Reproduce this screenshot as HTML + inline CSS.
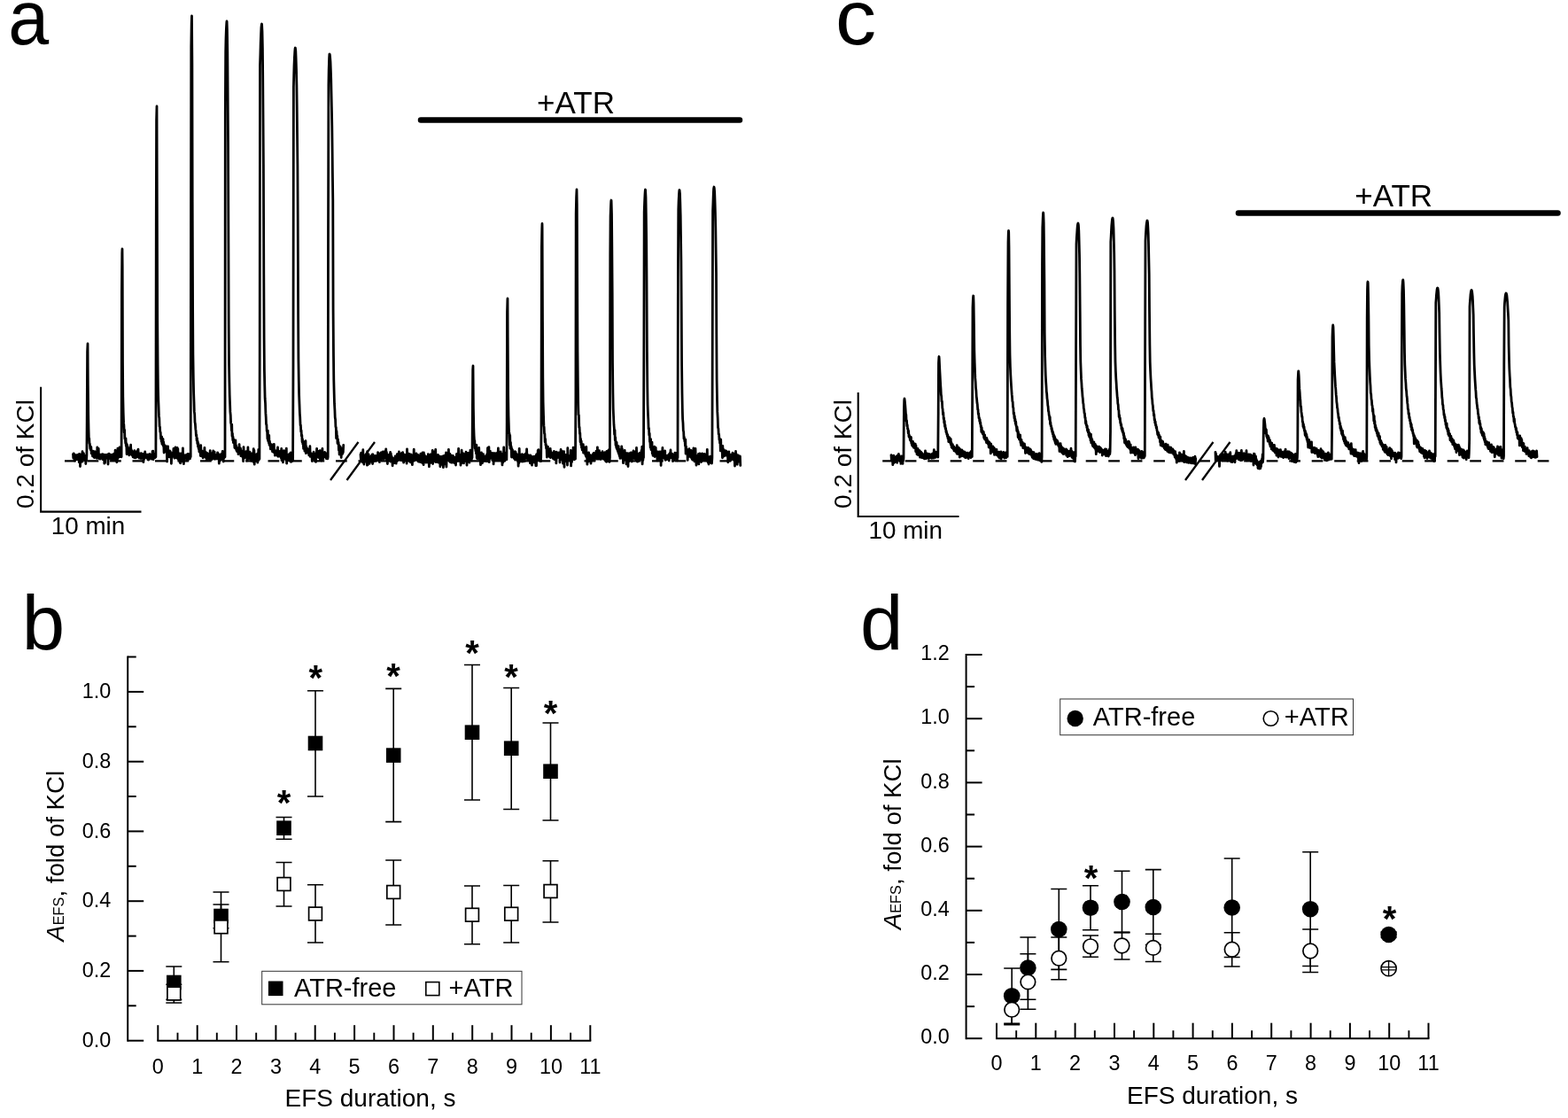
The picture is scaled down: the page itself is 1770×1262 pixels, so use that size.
<!DOCTYPE html>
<html lang="en"><head><meta charset="utf-8"><title>EFS responses with and without ATR</title>
<style>html,body{margin:0;padding:0;background:#fff}svg{display:block}text{font-family:'Liberation Sans', sans-serif;fill:#000}</style></head><body>
<svg width="1770" height="1262" viewBox="0 0 1770 1262" role="img" aria-label="EFS-evoked responses, panels a to d">
<rect width="1770" height="1262" fill="#fff"/>
<text transform="translate(9.2 50.3) scale(0.95 1)" font-size="87">a</text>
<text transform="translate(943 50.3) scale(1.06 1)" font-size="87">c</text>
<text x="24.8" y="732.6" font-size="87" text-anchor="start">b</text>
<text x="971" y="732.6" font-size="87" text-anchor="start">d</text>
<line x1="73" y1="520.4" x2="838" y2="520.4" stroke="#000" stroke-width="2.2" stroke-dasharray="12.75 12.75"/>
<path d="M82.5 512.7 82.8 517.2 83.2 511.8 83.5 516.9 83.9 512.7 84.2 520 84.6 513.8 85 518.6 85.3 514 85.7 518.5 86 514 86.3 517.4 86.7 513.7 87 518.6 87.4 513.5 87.8 518 88.1 514.4 88.5 518.5 88.8 514.3 89.2 521.6 89.5 512.5 89.8 519.8 90.2 514.2 90.5 526.5 90.9 515 91.2 521.8 91.6 513 92 519.8 92.3 513.5 92.7 521.2 93 509.7 93.3 520.6 93.7 513 94 516.4 94.4 511.7 94.8 518.5 95.1 514 95.5 517.7 95.8 514.1 96.2 520.2 96.5 515.7 96.8 523.5 97.2 514.6 97.5 520 97.9 513.9 98.2 472.7 98.6 396.8 99 388.2 99 388 99.3 434.4 99.7 468.8 100 483.8 100.3 494.2 100.7 494.9 101 500.5 101.4 501.1 101.8 506.5 102.1 503.8 102.5 508 102.8 504.4 103.2 511.8 103.5 509.1 103.8 511.6 104.2 509.5 104.5 514.8 104.9 509.1 105.2 513.1 105.6 510.8 106 516.1 106.3 512 106.7 516.7 107 509.7 107.3 514.7 107.7 510.6 108 514.7 108.4 512.4 108.8 516.6 109.1 510.8 109.5 517.4 109.8 504.8 110.2 516.9 110.5 507.8 110.8 516.4 111.2 506.4 111.5 516.4 111.9 513.5 112.2 517.8 112.6 512.8 113 518.2 113.3 514.1 113.7 516.4 114 513.4 114.3 517 114.7 513.9 115 515.3 115.4 512.7 115.8 518.5 116.1 513.5 116.4 516.3 116.8 513 117.2 516.7 117.5 513.3 117.8 523.1 118.2 513.8 118.5 522.5 118.9 513.5 119.2 515.9 119.6 513.3 119.9 517.1 120.3 513.5 120.7 516.3 121 514.3 121.3 516.6 121.7 513.6 122 524 122.4 512.5 122.8 515.9 123.1 512.1 123.4 517.4 123.8 513.3 124.2 516.8 124.5 513.1 124.8 518 125.2 514 125.5 517.5 125.9 514.1 126.2 519.3 126.6 513.1 126.9 519 127.3 513.5 127.7 517.1 128 514.2 128.3 515.9 128.7 512.1 129.1 519.6 129.4 512.9 129.8 518.3 130.1 508.1 130.4 517 130.8 513.9 131.2 518.1 131.5 512.3 131.8 521.8 132.2 509.5 132.6 518.7 132.9 506.1 133.2 516.8 133.6 511.4 133.9 516 134.3 512.5 134.7 515.5 135 505 135.3 515.7 135.7 513.2 136.1 515.6 136.4 509.5 136.8 514.7 137.1 515.8 137.4 330.9 137.8 285.5 138 281 138.2 299.5 138.5 408.8 138.8 447.7 139.2 466 139.6 477.4 139.9 480.4 140.2 488.1 140.6 485.1 140.9 495.1 141.3 494.7 141.7 500.5 142 494.8 142.3 503.5 142.7 500.4 143.1 512.7 143.4 501.9 143.8 508.1 144.1 504 144.4 509.1 144.8 505.3 145.2 511.1 145.5 506.3 145.8 513.9 146.2 507.4 146.6 511.2 146.9 505.9 147.2 510.8 147.6 502.2 147.9 512.9 148.3 507.6 148.6 512.7 149 509 149.3 514.2 149.7 511.1 150.1 515.8 150.4 510.3 150.8 515.1 151.1 509.9 151.4 516.5 151.8 508.7 152.1 514.8 152.5 510.5 152.8 516.8 153.2 511.2 153.6 514.2 153.9 510.5 154.2 516.1 154.6 509.4 154.9 515.1 155.3 508.7 155.6 515.6 156 507.1 156.3 515.7 156.7 513.1 157.1 517.1 157.4 511.6 157.8 514.6 158.1 512.3 158.4 517 158.8 513.6 159.1 517.6 159.5 511.6 159.8 515.3 160.2 513.1 160.6 515.1 160.9 512.6 161.2 515.1 161.6 512.3 161.9 521.7 162.3 512.6 162.6 518.6 163 512.3 163.3 516.4 163.7 509.8 164.1 515.8 164.4 512.7 164.8 514.8 165.1 513.5 165.4 516.8 165.8 514.1 166.1 517.2 166.5 513.1 166.8 518.6 167.2 513.4 167.6 519.2 167.9 513.6 168.2 518.7 168.6 512.6 168.9 516.2 169.3 512.6 169.6 516.9 170 514.6 170.3 517.3 170.7 513.9 171.1 518 171.4 514.3 171.8 517.4 172.1 509.3 172.4 518.1 172.8 509.2 173.1 518.7 173.5 513 173.8 515.7 174.2 512.4 174.6 516.6 174.9 513 175.2 516.5 175.6 512.6 175.9 515.8 176.3 248.6 176.6 135.5 177 120 177 120 177.3 227 177.7 360 178.1 412.1 178.4 437.6 178.8 452.4 179.1 459.9 179.4 469.4 179.8 472.3 180.1 481.3 180.5 482 180.8 487.7 181.2 487.9 181.6 495.3 181.9 493.2 182.2 498.3 182.6 492.8 182.9 501.1 183.3 497.2 183.6 501.9 184 495.4 184.3 503.5 184.7 498.9 185.1 511 185.4 501.9 185.8 506.4 186.1 504.3 186.4 508.5 186.8 505.3 187.1 509.8 187.5 503.7 187.8 509.8 188.2 507.4 188.6 521 188.9 508.4 189.2 514.7 189.6 504 189.9 515.3 190.3 509.3 190.6 515.6 191 510.2 191.3 515.8 191.7 508.9 192.1 514.8 192.4 510 192.8 516.6 193.1 511.3 193.4 523.3 193.8 512.1 194.1 514.5 194.5 512.4 194.8 514.8 195.2 510.9 195.6 515.3 195.9 506.5 196.2 515.7 196.6 513.2 196.9 517.2 197.3 506.8 197.6 516.3 198 504.8 198.3 516.7 198.7 511.1 199.1 515.1 199.4 507.2 199.8 517.2 200.1 505.5 200.4 516.5 200.8 506.6 201.1 518.2 201.5 513.5 201.8 519.4 202.2 511.6 202.6 517.6 202.9 513.4 203.2 522.4 203.6 514.5 203.9 522.8 204.3 512 204.6 520.1 205 513.7 205.3 517.8 205.7 515.6 206.1 520.7 206.4 505.9 206.8 518.5 207.1 513.8 207.4 523.6 207.8 514.9 208.1 518 208.5 513.9 208.8 517.3 209.2 513.6 209.6 517 209.9 514.6 210.2 517 210.6 514.3 210.9 519.9 211.3 513 211.7 517.4 212 512.5 212.3 519 212.7 514.4 213 518.1 213.4 512.7 213.8 517.2 214.1 513.2 214.4 517.8 214.8 513 215.2 515.7 215.5 291.8 215.8 53.3 216.2 26.4 216.5 18 216.5 18.5 216.9 71.3 217.2 227.7 217.6 346.7 217.9 399.4 218.3 426.2 218.6 442.3 219 453.5 219.3 464.4 219.7 467.9 220 476.5 220.4 478.6 220.8 484.4 221.1 486.5 221.4 491.9 221.8 490.9 222.1 497.2 222.5 494.6 222.8 500.8 223.2 498.1 223.5 504.2 223.9 500.5 224.2 506.7 224.6 503.2 224.9 510 225.3 506 225.6 510.1 226 505.9 226.3 514.5 226.7 502.7 227 513.2 227.4 508.8 227.8 514.9 228.1 508.9 228.4 512.9 228.8 510.5 229.1 516.9 229.5 510.8 229.8 514.7 230.2 511.2 230.5 513.4 230.9 505.3 231.2 515.4 231.6 509.6 231.9 516.3 232.3 510.3 232.6 516.9 233 511.3 233.3 519.5 233.7 511.5 234 517.2 234.4 511.9 234.8 517.1 235.1 512.6 235.4 518 235.8 513.3 236.1 517.5 236.5 514.1 236.8 519.5 237.2 508.6 237.5 516.6 237.9 512.6 238.2 518.6 238.6 513.3 238.9 518.9 239.3 513.2 239.6 516.3 240 511.2 240.3 515.7 240.7 509 241 517.5 241.4 511.3 241.8 518.1 242.1 510.1 242.4 518 242.8 513.1 243.1 518 243.5 513.9 243.8 517.2 244.2 513.6 244.5 517.9 244.9 514.6 245.2 517.8 245.6 510.8 245.9 516.7 246.3 513.5 246.6 518.1 247 512.6 247.3 523.2 247.7 514.3 248 520.7 248.4 514.6 248.8 519.4 249.1 515.2 249.4 517.2 249.8 512.4 250.1 517.3 250.5 512.8 250.8 518.4 251.2 509.4 251.5 519.5 251.9 511.5 252.2 521 252.6 512.5 252.9 516.8 253.3 509.7 253.6 516.3 254 515.7 254.3 128.5 254.7 58.9 255 43.9 255.4 32.3 255.8 25.5 256 24 256.1 24.4 256.4 33.6 256.8 58.2 257.1 99.9 257.5 160.2 257.9 274.7 258.2 366.7 258.5 409 258.9 431.6 259.2 445.9 259.6 456.2 259.9 464.9 260.3 469 260.6 477.4 261 478.4 261.4 486 261.7 479.2 262 492.3 262.4 489.1 262.8 497 263.1 493.2 263.4 499.6 263.8 495.8 264.1 500.2 264.5 499.1 264.9 505.4 265.2 500 265.5 505.9 265.9 497 266.2 506.5 266.6 503 266.9 508.5 267.3 506.2 267.6 509.5 268 505.6 268.4 508.5 268.7 507.4 269 512.7 269.4 506.1 269.8 511.3 270.1 501.6 270.4 511.4 270.8 510.2 271.1 511.9 271.5 506 271.9 514.6 272.2 508.6 272.5 513 272.9 509.8 273.2 513.6 273.6 509.6 273.9 516.1 274.3 512 274.6 520.7 275 504.6 275.4 515 275.7 512.1 276 516.9 276.4 511.2 276.8 516.1 277.1 511.7 277.4 515.3 277.8 509.6 278.1 515.3 278.5 513 278.9 520 279.2 511.2 279.5 518 279.9 504.8 280.2 517.8 280.6 514.2 280.9 516.9 281.3 512.5 281.6 515.9 282 510.2 282.4 518 282.7 511.8 283 518.3 283.4 512.5 283.8 520.3 284.1 511.8 284.4 517.4 284.8 512.6 285.1 518.3 285.5 514.2 285.9 516.3 286.2 506.7 286.5 521.9 286.9 508.4 287.2 524.1 287.6 513.6 287.9 519.7 288.3 513.4 288.6 517.8 289 513.6 289.4 520.2 289.7 512.6 290 520.5 290.4 515.5 290.8 522.1 291.1 512 291.4 518.1 291.8 507.3 292.1 519.4 292.5 516.2 292.9 518.1 293.2 405.8 293.5 74 293.9 60.8 294.2 48.7 294.6 38.7 294.9 31.5 295.3 27.6 295.5 27 295.6 27.6 296 35.4 296.4 54.1 296.7 84.8 297 128.5 297.4 185.9 297.8 310 298.1 382.2 298.4 416.9 298.8 436.3 299.1 449.2 299.5 454.8 299.9 466.4 300.2 470.8 300.5 478.9 300.9 479.4 301.2 486.8 301.6 485.8 301.9 495.3 302.3 486.1 302.6 497.8 303 492.5 303.4 499.8 303.7 491.4 304 502.2 304.4 497.8 304.8 503.5 305.1 500.7 305.4 506.9 305.8 501.7 306.1 506.2 306.5 503.3 306.9 506.6 307.2 501.8 307.5 509.8 307.9 504.1 308.2 510 308.6 505.6 308.9 509.5 309.3 501.3 309.6 511 310 507.3 310.4 514.2 310.7 508.7 311 513.7 311.4 509.1 311.8 511.6 312.1 509.3 312.4 512.3 312.8 509.7 313.1 514.3 313.5 504.9 313.9 515.3 314.2 509.5 314.5 513.2 314.9 510.2 315.2 512.5 315.6 509.4 315.9 515.2 316.3 509.1 316.6 514.1 317 509.6 317.4 517.1 317.7 506.5 318 519.6 318.4 513.6 318.8 518 319.1 514.3 319.4 521.9 319.8 513.2 320.1 518.4 320.5 508.6 320.9 515.9 321.2 512.1 321.5 515.4 321.9 514.2 322.2 517.9 322.6 513.8 322.9 519.7 323.3 506.2 323.6 523.1 324 513.6 324.4 517.7 324.7 514.4 325 517.6 325.4 513.4 325.8 516.8 326.1 513.8 326.4 520.2 326.8 512.2 327.1 518.3 327.5 512.4 327.9 517.5 328.2 510.8 328.5 521.4 328.9 511.8 329.2 517.4 329.6 515.6 329.9 520.4 330.3 512.7 330.6 519.7 331 411.9 331.4 98.4 331.7 85.9 332 74.5 332.4 65.1 332.8 58.2 333.1 54.6 333.3 54 333.4 54.2 333.8 57.5 334.1 65.3 334.5 78 334.9 96.2 335.2 120.1 335.5 149.8 335.9 185.7 336.2 246.6 336.6 356.5 336.9 405.3 337.3 430.4 337.6 445.5 338 456.1 338.4 467 338.7 470.7 339.1 480.3 339.4 479.8 339.8 487.4 340.1 485.9 340.4 492.2 340.8 491 341.1 498.9 341.5 495.7 341.8 501.2 342.2 499.3 342.6 506.4 342.9 501.2 343.2 506.3 343.6 498.7 343.9 509.1 344.3 504 344.6 508.7 345 497.7 345.3 511.6 345.7 503.9 346.1 510.8 346.4 505.8 346.8 510.1 347.1 506.5 347.4 511 347.8 509.5 348.1 511.6 348.5 509.9 348.8 513.8 349.2 507.8 349.6 513.6 349.9 503.7 350.2 515.4 350.6 512.9 350.9 515.4 351.3 511.6 351.6 515.6 352 513.7 352.3 520.5 352.7 513.7 353 516.1 353.4 512.3 353.8 515.8 354.1 510.2 354.4 518.4 354.8 513.2 355.1 518.3 355.5 513.2 355.8 517.6 356.2 511.9 356.5 521.4 356.9 512.4 357.2 516.7 357.6 506.3 357.9 513.6 358.3 511.6 358.6 516.1 359 510.5 359.3 515.4 359.7 509.3 360 516.7 360.4 511.9 360.8 516.5 361.1 508.7 361.4 519 361.8 511.8 362.1 514.1 362.5 509.2 362.8 520 363.2 511.6 363.5 515.6 363.9 506.4 364.2 518.4 364.6 511.2 364.9 518 365.3 511.2 365.6 516 366 510.7 366.3 515.6 366.7 510.4 367 515.7 367.4 512.8 367.8 514.3 368.1 512.2 368.4 517.6 368.8 512.2 369.1 517.2 369.5 511.3 369.8 517.9 370.2 515.7 370.5 260 370.9 95.6 371.2 78.4 371.6 66.2 371.9 61.1 372 61 372.3 61.6 372.6 64.4 373 69.7 373.3 77.9 373.7 89.1 374 103.4 374.4 121 374.8 142 375.1 166.4 375.4 194.4 375.8 226 376.1 348.5 376.5 402.1 376.8 428.9 377.2 444.8 377.5 455.7 377.9 462.7 378.2 471 378.6 473.6 378.9 481.8 379.3 482.5 379.6 494.6 380 486.7 380.3 492.8 380.7 492 381 500.4 381.4 495.6 381.8 501.6 382.1 499.2 382.4 508.2 382.8 502.5 383.1 513 383.5 503.6 383.8 508.3 384.2 504.1 384.5 510.6 384.9 506 385.2 516.5 385.6 506.1 385.9 510.7 386.3 508.7 386.6 512.3 387 507 387.3 510.8 387.7 502.5" fill="none" stroke="#000" stroke-width="2.8" stroke-linejoin="round" stroke-linecap="round"/>
<path d="M407 513 407.4 518.7 407.7 511.1 408.1 517.1 408.4 512.2 408.8 518.4 409.1 513.3 409.4 521.9 409.8 507.7 410.1 519.2 410.5 513.7 410.9 524.2 411.2 516.1 411.6 518.9 411.9 514.9 412.2 520.8 412.6 513.9 412.9 521.2 413.3 514.5 413.6 520.9 414 515 414.4 525.2 414.7 509.6 415.1 524.8 415.4 513.2 415.8 519.5 416.1 512.9 416.4 522.5 416.8 515.7 417.1 523.3 417.5 515.9 417.9 519.3 418.2 516 418.6 521 418.9 514.7 419.2 519.1 419.6 515.3 419.9 518.8 420.3 512.9 420.6 523.5 421 512.8 421.4 519 421.7 516.6 422.1 520.4 422.4 516.1 422.8 520.6 423.1 514.6 423.4 518.6 423.8 514.5 424.1 520.3 424.5 515.9 424.9 519.7 425.2 515.8 425.6 520 425.9 514 426.2 517.6 426.6 510.6 426.9 519.6 427.3 513.2 427.6 519.2 428 513.2 428.4 521.7 428.7 514.7 429.1 517.1 429.4 511.7 429.8 519.2 430.1 510.9 430.4 517.8 430.8 510.9 431.1 517.2 431.5 511.8 431.9 518.1 432.2 510 432.6 518.4 432.9 511.1 433.2 516.1 433.6 510.9 433.9 517.3 434.3 509.7 434.6 517.3 435 511.3 435.4 515.8 435.7 506.9 436.1 517 436.4 510.3 436.8 520.3 437.1 513 437.4 523.5 437.8 513.9 438.1 516.6 438.5 513.8 438.9 518.4 439.2 513.4 439.6 516.9 439.9 513 440.2 518.1 440.6 510.5 440.9 521 441.3 512.1 441.6 519.2 442 514.8 442.4 519.8 442.7 516.3 443.1 525.8 443.4 517.3 443.8 521.3 444.1 517.7 444.4 522.4 444.8 518.5 445.1 522.5 445.5 516.9 445.9 520.3 446.2 514.9 446.6 522.6 446.9 517.1 447.2 523.1 447.6 515.5 447.9 520.9 448.3 512.6 448.6 519.5 449 513.5 449.4 519.7 449.7 512.5 450.1 519.1 450.4 510 450.8 517.9 451.1 513.6 451.4 519.3 451.8 515.6 452.1 518.6 452.5 514 452.9 519.7 453.2 511.7 453.6 517.6 453.9 513.5 454.2 519.2 454.6 510.7 454.9 520.3 455.3 512.3 455.6 522.1 456 513.1 456.4 519.3 456.7 513.8 457.1 517.8 457.4 513.9 457.8 518.6 458.1 515.5 458.4 519.6 458.8 513 459.1 523.2 459.5 506.8 459.9 518.6 460.2 515 460.6 518.7 460.9 515 461.2 517.6 461.6 512.1 461.9 517.4 462.3 514.3 462.6 520.7 463 513.5 463.4 521.9 463.7 512.8 464.1 520.2 464.4 515.6 464.8 518 465.1 515.4 465.4 524.6 465.8 513.6 466.1 519.3 466.5 513.3 466.9 518.1 467.2 507.2 467.6 518.2 467.9 513.3 468.2 519.6 468.6 516.1 468.9 518.5 469.3 514.1 469.6 519 470 512 470.4 519.4 470.7 513.2 471.1 516.8 471.4 515.2 471.8 520.4 472.1 513.6 472.4 521.2 472.8 515.4 473.1 520.4 473.5 516.4 473.9 520.2 474.2 514.7 474.6 521.7 474.9 512.1 475.2 519.7 475.6 515 475.9 522 476.3 513.5 476.6 518.9 477 510.8 477.4 523.2 477.7 512.7 478.1 524.7 478.4 511 478.8 520.9 479.1 513.4 479.4 521.7 479.8 514.8 480.1 520.6 480.5 515.8 480.9 522.1 481.2 516 481.6 520 481.9 515.4 482.2 520.6 482.6 515.7 482.9 522 483.3 512.7 483.6 519.3 484 517 484.4 526.8 484.7 517.4 485.1 521.5 485.4 515.6 485.8 521.7 486.1 512.8 486.4 522.3 486.8 513.5 487.1 520.6 487.5 514.7 487.9 518 488.2 508.4 488.6 523.5 488.9 514 489.2 521.6 489.6 515.6 489.9 520.5 490.3 510 490.6 520 491 514.7 491.4 518.3 491.7 507.4 492.1 521.7 492.4 515.8 492.8 521.3 493.1 517.1 493.4 519.8 493.8 515.8 494.1 518.9 494.5 513.4 494.9 522.1 495.2 514.9 495.6 519.1 495.9 515 496.2 521.4 496.6 515.3 496.9 526.7 497.3 515.5 497.6 524 498 515.6 498.4 524.3 498.7 516.8 499.1 519.8 499.4 515.1 499.8 521.1 500.1 515.4 500.4 527.7 500.8 514.7 501.1 522.2 501.5 514.7 501.9 522.1 502.2 517.3 502.6 524 502.9 513.4 503.2 520.6 503.6 510.8 503.9 527 504.3 513.7 504.6 518.2 505 512.7 505.4 518.5 505.7 513.4 506.1 518.4 506.4 507.3 506.8 520.2 507.1 515.4 507.4 518.4 507.8 512.2 508.1 521.5 508.5 516.1 508.9 521.8 509.2 513.9 509.6 522.2 509.9 514.2 510.2 519.2 510.6 515.7 510.9 522 511.3 514.3 511.6 519.6 512 516.9 512.4 518.7 512.7 516 513 522.7 513.4 517.7 513.8 520.5 514.1 516.5 514.5 525 514.8 516.8 515.1 518.7 515.5 512.4 515.9 519.7 516.2 513.7 516.5 520.4 516.9 513.4 517.2 519.7 517.6 506.4 518 517 518.3 514 518.6 520.3 519 516 519.4 520.1 519.7 514.5 520 525.2 520.4 513.1 520.8 523 521.1 508.1 521.5 518.4 521.8 512.1 522.1 517.5 522.5 511.6 522.9 518.3 523.2 512.1 523.5 522.9 523.9 514.7 524.2 520.8 524.6 515.3 525 518.2 525.3 514 525.6 519.4 526 510.2 526.4 521.1 526.7 515.3 527 525.2 527.4 511.4 527.8 519.6 528.1 511.7 528.5 517.8 528.8 511.5 529.1 517.8 529.5 511.5 529.9 522.1 530.2 513.2 530.5 518.3 530.9 508.2 531.2 519.5 531.6 514.3 532 520 532.3 514.3 532.6 517.7 533 516.6 533.4 458.3 533.7 417.3 534 413 534 413.7 534.4 461.2 534.8 483 535.1 491.5 535.5 498.3 535.8 497.4 536.1 506 536.5 501.7 536.9 508.8 537.2 504.8 537.5 512 537.9 502.3 538.2 517.1 538.6 511.5 539 517.9 539.3 507.6 539.6 517.2 540 510 540.4 518 540.7 505.5 541 516.8 541.4 510.9 541.8 517.3 542.1 512.8 542.5 524.6 542.8 514.1 543.1 518.4 543.5 511 543.9 521.2 544.2 513 544.5 522.8 544.9 514.5 545.2 518.8 545.6 512.7 546 520.6 546.3 514.8 546.6 519.6 547 515.4 547.4 520.3 547.7 515.4 548 518.1 548.4 516.3 548.8 520.5 549.1 513.9 549.5 519.9 549.8 512.6 550.1 520.6 550.5 505.6 550.9 517.7 551.2 513.2 551.5 516.4 551.9 504.6 552.2 521.7 552.6 512.4 553 517.7 553.3 509.1 553.6 516.4 554 512.4 554.4 516.1 554.7 513.8 555 516.7 555.4 511.3 555.8 519.5 556.1 513.5 556.5 518.8 556.8 511.6 557.1 523.9 557.5 511.7 557.9 519.3 558.2 515.2 558.5 518.6 558.9 511.6 559.2 519.3 559.6 513 560 519.5 560.3 513.1 560.6 518.2 561 511.3 561.4 518.8 561.7 510.8 562 516.9 562.4 506 562.8 517.4 563.1 514.1 563.5 519 563.8 510.4 564.1 519.4 564.5 511.6 564.9 517.5 565.2 510 565.5 516.4 565.9 511.8 566.2 516.6 566.6 514.4 567 524.9 567.3 515.3 567.6 522.3 568 514.1 568.4 520.4 568.7 505 569 518.6 569.4 514.4 569.8 520.2 570.1 514.3 570.5 518.2 570.8 510.9 571.1 517.8 571.5 513.9 571.9 518.8 572.2 476.2 572.5 352.2 572.9 337.9 573 337 573.2 380.6 573.6 445.9 574 469.5 574.3 479 574.6 489.2 575 489 575.4 502.7 575.7 491.5 576 506.2 576.4 499.3 576.8 507 577.1 503.8 577.5 516 577.8 506.5 578.1 511.2 578.5 507.6 578.9 514.7 579.2 510.1 579.5 515.9 579.9 510.8 580.2 517.4 580.6 512.7 581 517 581.3 509.6 581.6 519.1 582 510.1 582.4 518.9 582.7 512.2 583 518.8 583.4 513.9 583.8 517.2 584.1 514.6 584.5 519.9 584.8 512.8 585.1 526.1 585.5 513.9 585.9 522.7 586.2 506.3 586.5 518.6 586.9 513.9 587.2 520.6 587.6 515.9 588 520.4 588.3 513.7 588.6 520.9 589 512.8 589.4 520.5 589.7 512.9 590 521 590.4 513.8 590.8 520.8 591.1 514.1 591.5 518 591.8 513.4 592.1 520.6 592.5 513.4 592.9 517.6 593.2 512.1 593.5 516.9 593.9 511.7 594.2 516.6 594.6 506.9 595 517.6 595.3 513.5 595.6 518.7 596 514 596.4 520.1 596.7 513.8 597 520 597.4 515.2 597.8 519.6 598.1 516 598.5 522.8 598.8 513.8 599.1 519.9 599.5 515.1 599.9 520.1 600.2 517.7 600.5 525.2 600.9 515.8 601.2 520.8 601.6 516.7 602 521.8 602.3 515.3 602.6 521.1 603 515.5 603.4 522.1 603.7 516.2 604 521.5 604.4 517.1 604.8 525.7 605.1 513.9 605.5 525.6 605.8 512.6 606.1 520.5 606.5 512.4 606.9 519.8 607.2 508.4 607.5 519.9 607.9 507.7 608.2 518.8 608.6 515.3 609 518 609.3 513.8 609.6 520.2 610 514.2 610.4 520.7 610.7 516.1 611 486.9 611.4 278.9 611.8 258 612 252.5 612.1 257 612.5 362.7 612.8 425.5 613.1 453.4 613.5 467.7 613.9 480.4 614.2 482.5 614.5 489.4 614.9 489.5 615.2 498.9 615.6 495.5 616 502.7 616.3 501.4 616.6 506.1 617 503.7 617.4 516.2 617.7 504.6 618 512.4 618.4 504.2 618.8 511.6 619.1 507 619.5 512.9 619.8 508.7 620.1 515.4 620.5 510.3 620.9 516.2 621.2 506.4 621.5 516.6 621.9 509.4 622.2 514.7 622.6 511.4 623 515 623.3 513.1 623.6 515 624 511.3 624.4 517.6 624.7 513.1 625 515.8 625.4 509.5 625.8 518.6 626.1 510.3 626.5 518.4 626.8 511.3 627.1 516.4 627.5 511.2 627.9 522.9 628.2 510.1 628.5 517.5 628.9 512.5 629.2 515.6 629.6 511.4 630 516.4 630.3 511.1 630.6 515.2 631 511.9 631.4 516.8 631.7 510.7 632 522 632.4 511.9 632.8 516.1 633.1 507.3 633.5 517.2 633.8 512.6 634.1 518.9 634.5 509.3 634.9 517.8 635.2 509.8 635.5 523.1 635.9 514.2 636.2 520.5 636.6 509.6 637 527.3 637.3 514.5 637.6 521.3 638 516.1 638.4 520.6 638.7 513.3 639 519 639.4 513.2 639.8 520.8 640.1 513.7 640.5 525 640.8 505.7 641.1 519.9 641.5 515.5 641.9 519.7 642.2 516.4 642.5 518 642.9 515.2 643.2 518.4 643.6 514.2 644 517.8 644.3 508.4 644.6 525.9 645 513.5 645.4 521.7 645.7 514.6 646 518.4 646.4 511.1 646.8 516.8 647.1 505.1 647.5 516.4 647.8 508.1 648.1 518.8 648.5 513.4 648.9 518 649.2 511.4 649.5 518.1 649.9 448.5 650.2 241.3 650.6 222.9 651 214.1 651 214 651.3 231 651.6 307.2 652 397.5 652.4 437.3 652.7 456.8 653 468.1 653.4 468.8 653.8 482.8 654.1 482 654.5 489.6 654.8 488.8 655.1 498.9 655.5 495.1 655.9 502.1 656.2 497.9 656.5 505.3 656.9 502.4 657.2 508 657.6 504.5 658 507.8 658.3 501.6 658.6 511.2 659 504.4 659.4 510.8 659.7 507.8 660 511 660.4 509.2 660.8 513.3 661.1 510.5 661.5 515.2 661.8 504.4 662.1 516.2 662.5 512.2 662.9 524.2 663.2 511 663.5 517.4 663.9 512.7 664.2 521 664.6 511 665 518.6 665.3 514.6 665.6 518.9 666 514.4 666.3 516.4 666.7 513.7 667 523.2 667.4 514.7 667.8 518 668.1 514.9 668.5 517.5 668.8 514.8 669.1 518.5 669.5 512.4 669.8 518.1 670.2 511.3 670.5 517.9 670.9 513 671.2 519.6 671.6 513.3 672 517 672.3 511.5 672.6 516.3 673 509.2 673.3 516.2 673.7 510.9 674 518.1 674.4 504.8 674.8 517.6 675.1 512.7 675.5 518.1 675.8 510.3 676.1 516 676.5 508.7 676.8 518.1 677.2 512.6 677.5 516.6 677.9 512.7 678.2 518.5 678.6 511.5 679 517.2 679.3 513.1 679.6 517 680 509.6 680.3 517.1 680.7 514.4 681 518.2 681.4 513.7 681.8 517 682.1 514.7 682.5 518.7 682.8 510.7 683.1 519.6 683.5 512 683.8 520.8 684.2 514.2 684.5 521.3 684.9 509.5 685.2 517.1 685.6 512.9 686 520.8 686.3 513.8 686.6 518.5 687 507.9 687.3 519.7 687.7 513.9 688 521.4 688.4 516.6 688.8 287.8 689.1 243.9 689.5 233.2 689.8 227 690 226 690.1 227.1 690.5 241.4 690.8 275.4 691.2 331.4 691.5 409.7 691.9 443.9 692.2 461.1 692.6 470.7 693 479.7 693.3 483.1 693.6 490.4 694 485.4 694.3 497 694.7 493.7 695 502.5 695.4 498.4 695.8 505.5 696.1 499.3 696.5 506.9 696.8 505.1 697.1 508.7 697.5 504.9 697.8 510.5 698.2 503.7 698.5 512.4 698.9 506.9 699.2 514.8 699.6 510.8 700 517.4 700.3 510.8 700.6 515.9 701 512.5 701.3 514.1 701.7 504 702 515.5 702.4 506.7 702.8 518 703.1 509.3 703.5 522.7 703.8 511.6 704.1 516.7 704.5 513 704.8 518.5 705.2 508.3 705.5 519.3 705.9 515.4 706.2 518.9 706.6 511.4 707 523.9 707.3 514.5 707.6 518.5 708 514.1 708.3 517.3 708.7 511.7 709 526.5 709.4 514 709.8 521 710.1 513.6 710.5 518.7 710.8 511.6 711.1 517.2 711.5 513.6 711.8 519.5 712.2 511 712.5 519.2 712.9 511.6 713.2 521 713.6 511.2 714 515.3 714.3 511.5 714.6 517.3 715 509 715.3 516 715.7 509.6 716 517.6 716.4 510.4 716.8 517.6 717.1 509.6 717.5 518.2 717.8 515.5 718.1 519.1 718.5 505.5 718.8 518.5 719.2 513.8 719.5 521.2 719.9 515.9 720.2 520.8 720.6 513.4 721 519.7 721.3 511.9 721.6 516.7 722 512.8 722.3 519.3 722.7 511.1 723 516.7 723.4 513.3 723.8 517.1 724.1 508.5 724.5 516.7 724.8 504.2 725.1 523.9 725.5 514.4 725.8 519.7 726.2 514.1 726.5 516.5 726.9 380.4 727.2 239.2 727.6 228.2 728 219.6 728.3 214.8 728.5 214 728.6 214.6 729 222.5 729.3 241.3 729.7 272.3 730 316.3 730.4 397.5 730.8 437.3 731.1 456.8 731.5 468.1 731.8 473.8 732.1 484.1 732.5 483.3 732.8 491.3 733.2 489.1 733.5 498.8 733.9 498.7 734.2 505.1 734.6 495.6 735 507.7 735.3 504.4 735.6 507.6 736 499.1 736.3 511.9 736.7 507.1 737 514.3 737.4 509.9 737.8 513.8 738.1 507.8 738.5 513.4 738.8 504.2 739.1 515.5 739.5 509.4 739.8 514.9 740.2 505.4 740.5 512.5 740.9 510.5 741.2 513.2 741.6 511.8 742 519.9 742.3 510 742.6 515.7 743 513.7 743.3 518 743.7 512.9 744 516.4 744.4 510 744.8 518.3 745.1 514.2 745.5 519.1 745.8 510.1 746.1 525.4 746.5 509.7 746.8 520.4 747.2 510.5 747.5 517.1 747.9 505.5 748.2 517 748.6 512 749 515.4 749.3 511.3 749.6 517.2 750 512.4 750.3 516 750.7 508.9 751 519.3 751.4 514.6 751.8 519 752.1 515 752.5 517.6 752.8 514.4 753.1 518.2 753.5 515.8 753.8 518.4 754.2 514.7 754.5 516.5 754.9 513 755.2 520 755.6 515.1 756 517.1 756.3 511.3 756.6 516.8 757 508 757.3 516.4 757.7 512.7 758 516.6 758.4 512.2 758.8 517.3 759.1 513.2 759.5 520.6 759.8 513.2 760.1 519.7 760.5 513.9 760.8 519.5 761.2 515.9 761.5 517.5 761.9 511.2 762.2 517 762.6 513.6 763 518 763.3 511.3 763.6 518.4 764 511.4 764.3 519.8 764.7 515.2 765 516.5 765.4 312.7 765.8 236.9 766.1 227 766.5 219.4 766.8 215.2 767 214.5 767.1 214.8 767.5 218.7 767.8 228 768.2 243.4 768.5 265.2 768.9 293.9 769.2 340.5 769.6 412.4 770 444.3 770.3 460.7 770.6 472.6 771 477.5 771.3 485.9 771.7 487.5 772 495.1 772.4 493.4 772.8 498.1 773.1 497.7 773.5 503.5 773.8 496.1 774.1 512.2 774.5 504.1 774.8 509.9 775.2 506.7 775.5 510.7 775.9 507.7 776.2 519.4 776.6 509.4 777 514.4 777.3 507.9 777.6 515.4 778 506.7 778.3 515.3 778.7 509.5 779 515.3 779.4 509.9 779.8 513.7 780.1 508.5 780.5 517 780.8 512.3 781.1 518.2 781.5 512.5 781.8 519.1 782.2 510.9 782.5 516.5 782.9 506 783.2 516.1 783.6 513.4 784 520.8 784.3 508.5 784.6 515.7 785 506.3 785.3 517 785.7 513.8 786 525.1 786.4 514.5 786.8 521.7 787.1 515.8 787.5 518.9 787.8 514.8 788.1 519.3 788.5 512.3 788.8 523.9 789.2 515.4 789.5 518.6 789.9 511.8 790.2 518.3 790.6 512.4 791 520.6 791.3 514.3 791.6 521.5 792 513.8 792.3 516.7 792.7 512 793 518.3 793.4 512.3 793.8 518.5 794.1 514.6 794.5 518.6 794.8 512.6 795.1 518.3 795.5 512.5 795.8 518.6 796.2 513.5 796.5 519.6 796.9 514.9 797.2 519.8 797.6 513.6 798 517.5 798.3 507.4 798.6 519.1 799 515.7 799.3 522.2 799.7 516 800 524 800.4 516 800.8 520 801.1 516.6 801.5 521.1 801.8 515.2 802.1 519.2 802.5 515.8 802.8 522.8 803.2 517.1 803.5 523 803.9 516.7 804.2 413.5 804.6 238.4 805 227.7 805.3 218.8 805.6 213 806 211 806 211 806.3 212.3 806.7 217.2 807 226.1 807.4 239.4 807.8 257.4 808.1 280.3 808.5 308.3 808.8 377.4 809.1 428 809.5 451.8 809.8 464.9 810.2 472.2 810.5 482.5 810.9 483.9 811.2 490.2 811.6 490.2 812 496.6 812.3 494.8 812.6 500.1 813 497.7 813.3 508.9 813.7 496.2 814 507.3 814.4 503.6 814.8 508.5 815.1 506.9 815.5 516.8 815.8 503.4 816.1 513.8 816.5 507 816.8 515.2 817.2 509.5 817.5 514.7 817.9 510.2 818.2 513.8 818.6 508.7 819 514.2 819.3 510 819.6 514 820 509.1 820.3 513.9 820.7 510.2 821 513.9 821.4 512.6 821.8 521.8 822.1 510.6 822.5 517.3 822.8 509.9 823.1 519.8 823.5 513 823.8 516.6 824.2 513.3 824.5 519.9 824.9 515.3 825.2 519.1 825.6 513.1 826 517.7 826.3 514.4 826.6 518.4 827 511.1 827.3 518.5 827.7 511.9 828 519.1 828.4 514.8 828.8 519.3 829.1 515.9 829.5 526 829.8 513.9 830.1 522.3 830.5 509.5 830.8 518.8 831.2 512.6 831.5 517.5 831.9 516 832.2 524.3 832.6 514.8 833 519.5 833.3 514 833.6 521 834 515 834.3 521.2 834.7 515.7 835 520.1 835.4 515 835.8 525.4" fill="none" stroke="#000" stroke-width="2.8" stroke-linejoin="round" stroke-linecap="round"/>
<line x1="373" y1="542" x2="404.5" y2="499" stroke="#000" stroke-width="2.3"/>
<line x1="391.5" y1="542" x2="423" y2="499" stroke="#000" stroke-width="2.3"/>
<path d="M46.1 436.8 V577.6 H159.5" fill="none" stroke="#000" stroke-width="2.1"/>
<line x1="475" y1="135.5" x2="835" y2="135.5" stroke="#000" stroke-width="6.5" stroke-linecap="round"/>
<text x="650" y="127.5" font-size="35" text-anchor="middle">+ATR</text>
<text x="99.5" y="603" font-size="27.8" text-anchor="middle">10 min</text>
<text transform="translate(38.2 512.5) rotate(-90)" font-size="28" text-anchor="middle">0.2 of KCl</text>
<line x1="996.2" y1="520.4" x2="1749" y2="520.4" stroke="#000" stroke-width="2.2" stroke-dasharray="12.75 12.75"/>
<path d="M1006 513.7 1006.4 519.4 1006.7 516.1 1007 519.6 1007.4 514.9 1007.8 524.6 1008.1 516.2 1008.5 519.9 1008.8 514.2 1009.1 522.5 1009.5 517.1 1009.9 521.8 1010.2 516.5 1010.5 520.8 1010.9 518.4 1011.2 520.3 1011.6 515.3 1012 519.9 1012.3 515 1012.6 522.3 1013 517.4 1013.4 519.9 1013.7 513.9 1014 519.2 1014.4 512.5 1014.8 518.2 1015.1 514.1 1015.5 520.1 1015.8 516.9 1016.1 520.9 1016.5 517.6 1016.9 523.3 1017.2 516.5 1017.5 523 1017.9 514.9 1018.2 521.3 1018.6 517.1 1019 523.4 1019.3 516.8 1019.6 520 1020 517 1020.4 464.2 1020.7 452 1021 450 1021 450 1021.4 453 1021.8 457.7 1022.1 461.5 1022.5 467.6 1022.8 467.9 1023.1 475.4 1023.5 474.6 1023.9 480.9 1024.2 479.5 1024.5 484.2 1024.9 484 1025.2 488.8 1025.6 486.1 1026 492.9 1026.3 491 1026.7 494 1027 492.3 1027.3 496.7 1027.7 493.7 1028 497.6 1028.4 493.4 1028.8 500.4 1029.1 498 1029.5 502.6 1029.8 498.6 1030.2 503.7 1030.5 498.3 1030.8 503.5 1031.2 499.8 1031.5 505.4 1031.9 500.9 1032.2 504.7 1032.6 503.2 1033 505.8 1033.3 501.2 1033.7 509.8 1034 503.2 1034.3 508.7 1034.7 506 1035 512.8 1035.4 506.1 1035.8 510.9 1036.1 506.4 1036.5 513.6 1036.8 508.1 1037.2 512.5 1037.5 508.8 1037.8 513.3 1038.2 508.6 1038.5 516.1 1038.9 509.8 1039.2 515 1039.6 510.2 1040 515.1 1040.3 512.9 1040.7 516.5 1041 511.6 1041.3 515.1 1041.7 512.5 1042 516.8 1042.4 512.9 1042.8 516.4 1043.1 513.7 1043.5 517.8 1043.8 512.9 1044.2 516.5 1044.5 508.9 1044.8 515.1 1045.2 511.3 1045.5 517.6 1045.9 512.1 1046.2 517 1046.6 511.9 1047 515 1047.3 513.7 1047.7 516.1 1048 513.4 1048.3 517.6 1048.7 512.4 1049 517.1 1049.4 513.8 1049.8 516.5 1050.1 513.1 1050.5 516.1 1050.8 513 1051.2 516.8 1051.5 512.7 1051.8 517.3 1052.2 512.5 1052.5 516.3 1052.9 511.9 1053.2 515.2 1053.6 512.6 1054 517.1 1054.3 507.7 1054.7 514.5 1055 512.4 1055.3 515.7 1055.7 511.4 1056 516.4 1056.4 510.2 1056.8 515.5 1057.1 510.7 1057.5 514.6 1057.8 510.9 1058.2 515 1058.5 514.1 1058.8 516.1 1059.2 465.5 1059.5 409.6 1059.9 402.9 1060 402.5 1060.2 404.6 1060.6 413.4 1061 421 1061.3 426.9 1061.7 434.6 1062 438.6 1062.3 445.2 1062.7 447.4 1063 453.1 1063.4 453 1063.8 460.7 1064.1 461.5 1064.5 467.8 1064.8 465.6 1065.2 473 1065.5 471.5 1065.8 477.5 1066.2 475.1 1066.5 481.5 1066.9 479.6 1067.2 484.1 1067.6 483.3 1068 487.9 1068.3 486.3 1068.7 490.2 1069 489.1 1069.3 492.5 1069.7 490.5 1070 494.9 1070.4 492.7 1070.8 498.6 1071.1 493.8 1071.5 498 1071.8 493.8 1072.2 498.4 1072.5 496.2 1072.8 500.3 1073.2 495.4 1073.5 502.3 1073.9 499.4 1074.2 505 1074.6 501.1 1075 505.8 1075.3 501.7 1075.7 504.9 1076 503.3 1076.3 507.1 1076.7 504 1077 508.9 1077.4 505.2 1077.8 508.2 1078.1 507 1078.5 509.4 1078.8 507.6 1079.2 510.1 1079.5 506.1 1079.8 511.5 1080.2 502.6 1080.5 512.4 1080.9 506.1 1081.2 512 1081.6 504.9 1082 511.4 1082.3 505.4 1082.7 512.8 1083 506.2 1083.3 516.2 1083.7 507.2 1084 514 1084.4 509.3 1084.8 512.7 1085.1 510 1085.5 514.9 1085.8 508 1086.2 512.4 1086.5 508.6 1086.8 513.7 1087.2 512.3 1087.5 514.6 1087.9 512.1 1088.2 515.3 1088.6 509.9 1089 514.5 1089.3 510.5 1089.7 516.6 1090 511.1 1090.3 516.6 1090.7 511.9 1091 515.4 1091.4 512.3 1091.8 516.2 1092.1 511.1 1092.5 516.2 1092.8 511.9 1093.2 517.7 1093.5 513.9 1093.8 515.9 1094.2 513.4 1094.5 515.5 1094.9 510.9 1095.2 515.7 1095.6 512.4 1096 516.5 1096.3 509.3 1096.7 515.6 1097 512 1097.3 515.5 1097.7 434.6 1098 347 1098.4 337.1 1098.7 334 1098.8 334.1 1099.1 342.9 1099.5 369.9 1099.8 395.2 1100.2 409.2 1100.5 417.9 1100.8 426.4 1101.2 431.1 1101.5 437.6 1101.9 441 1102.2 447.1 1102.6 450 1103 454.9 1103.3 456.2 1103.7 462.4 1104 462 1104.3 467.7 1104.7 466.8 1105 471.9 1105.4 471.4 1105.8 475.5 1106.1 473.4 1106.5 478.5 1106.8 476.9 1107.2 482 1107.5 480.7 1107.8 487.4 1108.2 482.6 1108.5 488.1 1108.9 485.8 1109.2 489.6 1109.6 487.2 1110 490.6 1110.3 487.5 1110.7 494.2 1111 490.8 1111.3 495.5 1111.7 491 1112 495.9 1112.4 493.8 1112.8 497.3 1113.1 494.7 1113.5 499.7 1113.8 494.4 1114.2 500 1114.5 496.3 1114.8 499.5 1115.2 497.6 1115.5 501.5 1115.9 499.6 1116.2 504.9 1116.6 499 1117 504.5 1117.3 499.8 1117.7 505.8 1118 503.5 1118.3 511.9 1118.7 501.2 1119 509 1119.4 504.5 1119.8 507.4 1120.1 506 1120.5 510.1 1120.8 503.8 1121.2 509.5 1121.5 505.3 1121.8 509.3 1122.2 505.4 1122.5 513.4 1122.9 506.8 1123.2 511.2 1123.6 507.8 1124 511.7 1124.3 507.6 1124.7 513.3 1125 507.5 1125.3 513.6 1125.7 510.8 1126 513.5 1126.4 510.6 1126.8 515.3 1127.1 511.4 1127.5 515.4 1127.8 510.2 1128.2 517.1 1128.5 511.1 1128.8 516.5 1129.2 510.8 1129.5 516.6 1129.9 510 1130.2 518 1130.6 512.9 1131 515 1131.3 511.9 1131.7 515.7 1132 512.7 1132.3 513.5 1132.7 510.4 1133 513.6 1133.4 511.2 1133.8 517.2 1134.1 511.2 1134.5 515.4 1134.8 511.5 1135.2 516.5 1135.5 510.8 1135.8 516.7 1136.2 511.4 1136.5 514.4 1136.9 513.1 1137.2 515.4 1137.6 343.9 1138 274.1 1138.3 262.5 1138.5 260.5 1138.7 261.8 1139 279 1139.3 319.8 1139.7 374 1140 400.1 1140.4 414 1140.8 423 1141.1 428.5 1141.5 435.4 1141.8 439.6 1142.2 445.4 1142.5 448 1142.8 452.9 1143.2 453.7 1143.5 459.6 1143.9 460.4 1144.2 467.3 1144.6 465.9 1145 472.1 1145.3 469.5 1145.7 475.5 1146 473.1 1146.3 478.5 1146.7 475.9 1147 480.7 1147.4 480.9 1147.8 486.3 1148.1 482 1148.5 487.5 1148.8 485.4 1149.2 493.6 1149.5 487.7 1149.8 494 1150.2 490.9 1150.5 496 1150.9 491 1151.2 496.2 1151.6 490.8 1152 499.8 1152.3 496.1 1152.7 502.6 1153 496.3 1153.3 501.4 1153.7 498.9 1154 503.1 1154.4 499.5 1154.8 505.7 1155.1 501.1 1155.5 505.5 1155.8 501.6 1156.2 504.4 1156.5 501 1156.8 506.8 1157.2 503.7 1157.5 511.5 1157.9 505.3 1158.2 510.5 1158.6 505.3 1159 510.1 1159.3 505.7 1159.7 510.7 1160 505.5 1160.3 511.3 1160.7 505.3 1161 510.6 1161.4 506.9 1161.8 512.5 1162.1 507 1162.5 511.6 1162.8 507 1163.2 512.6 1163.5 507.7 1163.8 510.8 1164.2 509 1164.5 514.4 1164.9 510.2 1165.2 516.3 1165.6 510.5 1166 514.6 1166.3 511.2 1166.7 517.7 1167 510.6 1167.3 514.8 1167.7 513.6 1168 518 1168.4 513.7 1168.8 516.6 1169.1 512.6 1169.5 518.5 1169.8 512.3 1170.2 517.7 1170.5 512.8 1170.8 518.1 1171.2 514 1171.5 519.2 1171.9 516.6 1172.2 519.2 1172.6 511.8 1173 517.7 1173.3 511.7 1173.7 519.8 1174 514.9 1174.3 518.7 1174.7 516 1175 519.9 1175.4 514.8 1175.8 521.4 1176.1 515.2 1176.5 298.9 1176.8 257.1 1177.2 246.9 1177.5 240.9 1177.7 240 1177.8 240.8 1178.2 251.3 1178.5 276.3 1178.9 317.5 1179.2 375.3 1179.6 401.2 1180 414.9 1180.3 423.9 1180.7 431.4 1181 435.8 1181.3 441.6 1181.7 444.6 1182 449.6 1182.4 452.1 1182.8 457.6 1183.1 458.8 1183.5 464.5 1183.8 464.5 1184.2 468.8 1184.5 469.2 1184.8 473.7 1185.2 470.6 1185.5 478.8 1185.9 476.7 1186.2 480.8 1186.6 480.7 1187 484.5 1187.3 483.1 1187.7 487.6 1188 486.1 1188.3 489.9 1188.7 487.9 1189 492.8 1189.4 490.4 1189.8 495.9 1190.1 492.1 1190.5 497.6 1190.8 493.6 1191.2 499.8 1191.5 497.1 1191.8 501.3 1192.2 496.2 1192.5 500.6 1192.9 498.5 1193.2 501 1193.6 497.4 1194 501.6 1194.3 499.1 1194.7 503.2 1195 501.3 1195.3 504.4 1195.7 502.9 1196 509.5 1196.4 504.7 1196.8 508.1 1197.1 500.6 1197.5 508.5 1197.8 503.3 1198.2 510.1 1198.5 505.5 1198.8 511.2 1199.2 505.2 1199.5 509.3 1199.9 506.6 1200.2 512.5 1200.6 506.3 1201 512.4 1201.3 509.3 1201.7 510.5 1202 508.2 1202.3 511.8 1202.7 509 1203 511 1203.4 506.8 1203.8 514.2 1204.1 507.6 1204.5 513 1204.8 508.7 1205.2 515.7 1205.5 511.4 1205.8 514.2 1206.2 509.5 1206.5 513.2 1206.9 510 1207.2 514.6 1207.6 510.3 1208 513.6 1208.3 508.7 1208.7 514.2 1209 506.2 1209.3 513.3 1209.7 509 1210 516.2 1210.4 510 1210.8 517 1211.1 512.3 1211.5 517.3 1211.8 512.8 1212.2 516.6 1212.5 510.6 1212.8 520.7 1213.2 511.6 1213.5 521 1213.9 513 1214.2 514.9 1214.6 397.7 1215 275.7 1215.3 269.2 1215.7 263.4 1216 258.5 1216.3 254.8 1216.7 252.6 1217 252 1217 252 1217.4 254.1 1217.8 260.3 1218.1 271.2 1218.5 287.2 1218.8 308.7 1219.2 352.3 1219.5 390.1 1219.8 408.5 1220.2 419.3 1220.5 427.4 1220.9 432.4 1221.2 438.2 1221.6 441.8 1222 447.6 1222.3 449.7 1222.7 455.1 1223 455.9 1223.3 460.8 1223.7 462.1 1224 466.2 1224.4 466.4 1224.8 471.6 1225.1 471.3 1225.5 478 1225.8 475.1 1226.2 479.8 1226.5 479.4 1226.8 482.5 1227.2 480.7 1227.5 486.2 1227.9 484.1 1228.2 487.9 1228.6 485 1229 491.3 1229.3 487.9 1229.7 493.1 1230 489.3 1230.3 493.8 1230.7 492.8 1231 497.2 1231.4 490.1 1231.8 499.9 1232.1 494.5 1232.5 499.4 1232.8 495.9 1233.2 502.7 1233.5 499.6 1233.8 503.8 1234.2 499.3 1234.5 503.9 1234.9 498.8 1235.2 505.3 1235.6 502.6 1236 505.9 1236.3 501.3 1236.7 507.6 1237 502.6 1237.3 512.7 1237.7 505 1238 507.3 1238.4 503.9 1238.8 508.6 1239.1 505.2 1239.5 509.4 1239.8 504.3 1240.2 508.9 1240.5 504.2 1240.8 509.7 1241.2 506.2 1241.5 510.5 1241.9 505.2 1242.2 510.1 1242.6 505.9 1243 509.9 1243.3 507 1243.7 509.7 1244 507.6 1244.3 514 1244.7 508.8 1245 511.6 1245.4 509.6 1245.8 510.9 1246.1 508.1 1246.5 512.3 1246.8 508.3 1247.2 512.2 1247.5 506.9 1247.8 513.6 1248.2 508.5 1248.5 514.6 1248.9 507.2 1249.2 514.4 1249.6 508.9 1250 513.6 1250.3 509.9 1250.7 513.8 1251 509.1 1251.3 515 1251.7 509 1252 513.3 1252.4 506.9 1252.8 512.7 1253.1 509.8 1253.5 486.5 1253.8 273.1 1254.2 266.4 1254.5 260.1 1254.8 254.6 1255.2 250.3 1255.5 247.4 1255.9 246.1 1256 246 1256.2 246.6 1256.6 250.3 1257 257.7 1257.3 269.4 1257.7 285.6 1258 306.4 1258.3 350.3 1258.7 389.4 1259 408.2 1259.4 419.2 1259.8 427.6 1260.1 431.9 1260.5 438.8 1260.8 442.5 1261.2 448.5 1261.5 450 1261.8 455.3 1262.2 456.9 1262.5 462.5 1262.9 463 1263.2 470.6 1263.6 468.5 1264 473.3 1264.3 471.6 1264.7 477.7 1265 476.5 1265.3 480.4 1265.7 478.9 1266 484.2 1266.4 482.3 1266.8 486.6 1267.1 483.7 1267.5 488.4 1267.8 486.9 1268.2 491.4 1268.5 488.8 1268.8 495.1 1269.2 492.1 1269.5 499.7 1269.9 494.6 1270.2 500.1 1270.6 495.9 1271 501.3 1271.3 498.8 1271.7 502.6 1272 500.3 1272.3 503.5 1272.7 498.7 1273 504.5 1273.4 500.4 1273.8 503.1 1274.1 498.1 1274.5 505.8 1274.8 499.4 1275.2 505.6 1275.5 503 1275.8 507.5 1276.2 501.9 1276.5 511.2 1276.9 505.1 1277.2 509.7 1277.6 505.5 1278 509.8 1278.3 505.9 1278.7 510.8 1279 505.9 1279.3 510.7 1279.7 505 1280 511.3 1280.4 506 1280.8 511.4 1281.1 507.2 1281.5 513.6 1281.8 504.9 1282.2 509.6 1282.5 506.7 1282.8 510.3 1283.2 508.3 1283.5 511.2 1283.9 507.7 1284.2 512.3 1284.6 507.2 1285 517.8 1285.3 509.1 1285.7 515.6 1286 508.6 1286.3 516 1286.7 511.3 1287 514.4 1287.4 510.5 1287.8 514.8 1288.1 511 1288.5 517.3 1288.8 509.4 1289.2 517.2 1289.5 511.2 1289.8 515.8 1290.2 511.6 1290.5 516.3 1290.9 513.9 1291.2 516.8 1291.6 509.8 1292 515.4 1292.3 514.6 1292.7 366.2 1293 272 1293.3 265.5 1293.7 259.7 1294 254.9 1294.4 251.4 1294.8 249.4 1295 249 1295.1 249.1 1295.5 250.8 1295.8 255.5 1296.2 263.5 1296.5 275 1296.8 290.2 1297.2 309.3 1297.5 351.3 1297.9 389.8 1298.2 408.4 1298.6 419.3 1299 427.5 1299.3 432.2 1299.7 439 1300 442.2 1300.3 448.7 1300.7 451.2 1301 456.1 1301.4 458.1 1301.8 463.9 1302.1 463.3 1302.5 469.1 1302.8 467.7 1303.2 474.1 1303.5 473.1 1303.8 477.5 1304.2 475.8 1304.5 480.2 1304.9 479.4 1305.2 483 1305.6 481.8 1306 485.9 1306.3 486.2 1306.7 490.4 1307 487.7 1307.3 491.3 1307.7 488.3 1308 493.8 1308.4 490.7 1308.8 494.8 1309.1 492.6 1309.5 498.9 1309.8 492.9 1310.2 502.6 1310.5 497.5 1310.8 500.4 1311.2 497.3 1311.5 502.8 1311.9 497.9 1312.2 503.8 1312.6 498.3 1313 503.4 1313.3 500.7 1313.7 503.7 1314 501.9 1314.3 505.8 1314.7 503.1 1315 507 1315.4 503.9 1315.8 507.6 1316.1 501.2 1316.5 505.9 1316.8 502.4 1317.2 508.3 1317.5 503.2 1317.8 509.4 1318.2 502.2 1318.5 507.1 1318.9 504.8 1319.2 510.4 1319.6 506 1320 508.9 1320.3 504.9 1320.7 510.8 1321 505.4 1321.3 510.8 1321.7 505.1 1322 509 1322.4 506.5 1322.8 511 1323.1 507.8 1323.5 511.3 1323.8 507 1324.2 511.6 1324.5 507.9 1324.8 513 1325.2 509.1 1325.5 512.8 1325.9 510.2 1326.2 515.9 1326.6 509.7 1327 516.8 1327.3 512.9 1327.7 518.5 1328 514.1 1328.3 522.2 1328.7 516.6 1329 519 1329.4 514.5 1329.8 520.2 1330.1 515.5 1330.5 519.7 1330.8 515.3 1331.2 520.4 1331.5 510.8 1331.8 517.9 1332.2 515.4 1332.5 517.5 1332.9 512.8 1333.2 518.2 1333.6 513 1334 519.8 1334.3 514.2 1334.7 517.4 1335 514.3 1335.3 519.6 1335.7 512.9 1336 520.6 1336.4 509.3 1336.8 521.7 1337.1 514.6 1337.5 519.6 1337.8 514.3 1338.2 519.9 1338.5 515 1338.8 520.6 1339.2 516.8 1339.5 521.8 1339.9 516.1 1340.2 519.1 1340.6 516.1 1341 519.8 1341.3 517.7 1341.7 522.3 1342 517 1342.3 521.5 1342.7 518 1343 519.3 1343.4 516.9 1343.8 522.2 1344.1 518.4 1344.5 522.6 1344.8 517.2 1345.2 522.8 1345.5 517.1 1345.8 522.1 1346.2 517.4 1346.5 520.2 1346.9 516.5 1347.2 523 1347.6 517.9 1348 522.5 1348.3 517.2 1348.7 519.5 1349 515.1 1349.3 523.8 1349.7 517.7" fill="none" stroke="#000" stroke-width="2.8" stroke-linejoin="round" stroke-linecap="round"/>
<path d="M1372 510.4 1372.3 520.4 1372.7 512.3 1373 519.4 1373.4 516.1 1373.8 519.9 1374.1 515.4 1374.5 519 1374.8 517 1375.2 518.6 1375.5 515.7 1375.8 520.6 1376.2 517.8 1376.5 526.4 1376.9 516.1 1377.2 518.7 1377.6 513.7 1378 518.5 1378.3 515.2 1378.7 519.5 1379 512.1 1379.3 518 1379.7 513.9 1380 519.1 1380.4 513.1 1380.8 517.1 1381.1 514 1381.5 517.6 1381.8 515.7 1382.2 516.7 1382.5 512.3 1382.8 518.7 1383.2 510.2 1383.5 515.6 1383.9 512.5 1384.2 518.6 1384.6 512.7 1385 518 1385.3 513.3 1385.7 520.1 1386 514 1386.3 518.6 1386.7 513.4 1387 517.2 1387.4 512.6 1387.8 517.9 1388.1 513.7 1388.5 518.2 1388.8 510.7 1389.2 520.1 1389.5 515.1 1389.8 521.4 1390.2 515.8 1390.5 519.8 1390.9 517.1 1391.2 521.5 1391.6 515.1 1392 520.1 1392.3 517.1 1392.7 519.9 1393 515.6 1393.3 519.2 1393.7 514.4 1394 521.8 1394.4 514.2 1394.8 518.1 1395.1 511.8 1395.5 517.2 1395.8 508.7 1396.2 514.4 1396.5 511.8 1396.8 516.7 1397.2 511.2 1397.5 517.8 1397.9 511.4 1398.2 518.7 1398.6 511.9 1399 516.6 1399.3 511.3 1399.7 517.5 1400 512.2 1400.3 519.6 1400.7 513.7 1401 519.6 1401.4 508.5 1401.8 516.2 1402.1 512.7 1402.5 519.3 1402.8 512.2 1403.2 518.3 1403.5 513.7 1403.8 516.2 1404.2 511.6 1404.5 518.1 1404.9 512.8 1405.2 516.5 1405.6 513.5 1406 518.8 1406.3 513.7 1406.7 517.1 1407 508.7 1407.3 519.8 1407.7 514.4 1408 519 1408.4 513.1 1408.8 517.9 1409.1 513.3 1409.5 518.9 1409.8 512.9 1410.2 518.5 1410.5 513.3 1410.8 517.8 1411.2 513.2 1411.5 519 1411.9 513.2 1412.2 520.4 1412.6 514.2 1413 518.9 1413.3 515.6 1413.7 519.6 1414 514.9 1414.3 519.5 1414.7 516 1415 525 1415.4 512.2 1415.8 519.4 1416.1 512.3 1416.5 518.2 1416.8 515 1417.2 519.3 1417.5 515 1417.8 523.5 1418.2 518.4 1418.5 523.3 1418.9 519.9 1419.2 524.9 1419.6 521.8 1420 528.5 1420.3 523.7 1420.7 528.1 1421 522.4 1421.3 529 1421.7 521.4 1422 528.6 1422.4 523.6 1422.8 528.8 1423.1 520.4 1423.5 526.6 1423.8 521.2 1424.2 523.2 1424.5 518 1424.8 521.8 1425.2 513 1425.5 521.5 1425.9 517.3 1426.2 492 1426.6 474.7 1427 472.5 1427 472.5 1427.3 473.5 1427.7 476.8 1428 479.7 1428.3 483.8 1428.7 483.9 1429 489.3 1429.4 485 1429.8 492.6 1430.1 490.8 1430.5 494.7 1430.8 491.4 1431.2 498.2 1431.5 492.2 1431.8 497.9 1432.2 493.6 1432.5 498.2 1432.9 495.9 1433.2 501.4 1433.6 496.8 1434 503.8 1434.3 499.5 1434.7 504.6 1435 501.9 1435.3 506.9 1435.7 500.1 1436 506.8 1436.4 501.8 1436.8 508.3 1437.1 505.2 1437.5 508.7 1437.8 504 1438.2 509.3 1438.5 502.5 1438.8 509.5 1439.2 505.4 1439.5 511.1 1439.9 506.4 1440.2 511.3 1440.6 506.9 1441 514.1 1441.3 506.5 1441.7 511 1442 507.4 1442.3 512.1 1442.7 507.7 1443 516 1443.4 508.7 1443.8 512.1 1444.1 508.2 1444.5 513.3 1444.8 510.9 1445.2 513 1445.5 507.7 1445.8 515.3 1446.2 509.8 1446.5 512.3 1446.9 510 1447.2 515.5 1447.6 511 1448 514.8 1448.3 510.6 1448.7 516.7 1449 510.3 1449.3 515.9 1449.7 509.7 1450 514.2 1450.4 510.2 1450.8 515.2 1451.1 507.1 1451.5 516 1451.8 509.9 1452.2 516 1452.5 511.5 1452.8 514.7 1453.2 510 1453.5 514.3 1453.9 509.6 1454.2 516 1454.6 510.4 1455 517.7 1455.3 509.8 1455.7 515.5 1456 510.8 1456.3 513.9 1456.7 511.4 1457 515 1457.4 511.1 1457.8 517.9 1458.1 513.9 1458.5 520.6 1458.8 512.5 1459.2 519.8 1459.5 513.2 1459.8 520.3 1460.2 515.7 1460.5 521.3 1460.9 514.5 1461.2 518.1 1461.6 513.5 1462 517.4 1462.3 512.3 1462.7 521.9 1463 516.9 1463.3 520.4 1463.7 515 1464 520.4 1464.4 516.4 1464.8 506 1465.1 428.8 1465.5 421 1465.7 419 1465.8 419 1466.2 424.4 1466.5 431.2 1466.8 438.4 1467.2 442.9 1467.5 449 1467.9 452 1468.2 458.6 1468.6 458.8 1469 464.9 1469.3 466.7 1469.7 470.7 1470 470.2 1470.3 476.3 1470.7 476.2 1471 481.7 1471.4 478.7 1471.8 483.6 1472.1 481.5 1472.5 486.6 1472.8 485.4 1473.2 491.2 1473.5 486.7 1473.8 492.2 1474.2 488.8 1474.5 493.5 1474.9 490.3 1475.2 496.3 1475.6 493.4 1476 498.9 1476.3 496.1 1476.7 505 1477 496.3 1477.3 501.3 1477.7 496.3 1478 503 1478.4 498.6 1478.8 505.7 1479.1 500.8 1479.5 504 1479.8 501.7 1480.2 506.2 1480.5 498.9 1480.8 510.5 1481.2 504.5 1481.5 507 1481.9 505.3 1482.2 510.3 1482.6 505.9 1483 509.4 1483.3 506.1 1483.7 511 1484 505.5 1484.3 511.6 1484.7 506.9 1485 510.6 1485.4 508.5 1485.8 511.3 1486.1 506.4 1486.5 510.7 1486.8 509.3 1487.2 513.5 1487.5 508.1 1487.8 515.6 1488.2 509.3 1488.5 513.6 1488.9 508.7 1489.2 513.7 1489.6 509.9 1490 514.4 1490.3 510.8 1490.7 515.8 1491 506.7 1491.3 515.2 1491.7 510 1492 517 1492.4 508.6 1492.8 514.1 1493.1 511.8 1493.5 516.8 1493.8 510 1494.2 516.5 1494.5 512.3 1494.8 515.6 1495.2 512.7 1495.5 519.4 1495.9 512.1 1496.2 519.3 1496.6 514.2 1497 518.1 1497.3 513.5 1497.7 519.9 1498 512.3 1498.3 518.5 1498.7 512 1499 515.1 1499.4 510.9 1499.8 519.1 1500.1 513 1500.5 518.5 1500.8 513.1 1501.2 518.1 1501.5 514.1 1501.8 517.7 1502.2 513.8 1502.5 518.4 1502.9 511.5 1503.2 518.2 1503.6 483.3 1504 380.5 1504.3 371.4 1504.7 367.1 1504.7 367 1505 369.2 1505.3 378.9 1505.7 396.6 1506 408.4 1506.4 416 1506.8 424.2 1507.1 429.3 1507.5 436.4 1507.8 439.2 1508.2 445.7 1508.5 448.2 1508.8 453.5 1509.2 456 1509.5 460.3 1509.9 461.4 1510.2 465.6 1510.6 467.6 1511 471.8 1511.3 470.8 1511.7 475.5 1512 475.3 1512.3 478.8 1512.7 477.5 1513 483.6 1513.4 481 1513.8 486.4 1514.1 483.4 1514.5 489.7 1514.8 485.8 1515.2 490.8 1515.5 486.2 1515.8 492.7 1516.2 490.4 1516.5 495.9 1516.9 492.3 1517.2 497.8 1517.6 494.4 1518 500.2 1518.3 493.7 1518.7 501.4 1519 496.7 1519.3 502.7 1519.7 497.9 1520 503 1520.4 499.6 1520.8 503.8 1521.1 501.2 1521.5 503.6 1521.8 499.7 1522.2 505.2 1522.5 501.6 1522.8 506.9 1523.2 504.5 1523.5 506.2 1523.9 502.6 1524.2 507.3 1524.6 504.8 1525 512.2 1525.3 500.6 1525.7 510.3 1526 505.3 1526.3 510.4 1526.7 508.7 1527 512.5 1527.4 508 1527.8 513.2 1528.1 507.5 1528.5 514.5 1528.8 508.3 1529.2 513.7 1529.5 512.2 1529.8 514.5 1530.2 507.6 1530.5 514.7 1530.9 512.6 1531.2 515.2 1531.6 511 1532 514.9 1532.3 511.1 1532.7 516.2 1533 511.2 1533.3 518.2 1533.7 512.7 1534 522.6 1534.4 512.8 1534.8 517 1535.1 511.7 1535.5 515.7 1535.8 513 1536.2 517.3 1536.5 513.7 1536.8 520.5 1537.2 513.3 1537.5 518.3 1537.9 511 1538.2 515.9 1538.6 509.4 1539 518.8 1539.3 511.8 1539.7 517.7 1540 512.6 1540.3 516.4 1540.7 514.3 1541 518 1541.4 514.7 1541.8 519.1 1542.1 514.1 1542.5 519 1542.8 515.3 1543.2 360.3 1543.5 326.8 1543.8 318.9 1544 318 1544.2 319.4 1544.5 331 1544.9 356.5 1545.2 389.6 1545.6 406.5 1546 416.9 1546.3 424.1 1546.7 432 1547 435.7 1547.3 443.5 1547.7 444.9 1548 450.5 1548.4 451.9 1548.8 457.7 1549.1 457.9 1549.5 464.5 1549.8 461.3 1550.2 467.8 1550.5 468.2 1550.8 475.1 1551.2 469.4 1551.5 478.2 1551.9 475.2 1552.2 482.6 1552.6 479.8 1553 485.7 1553.3 482.7 1553.7 486.8 1554 484.6 1554.3 489.2 1554.7 486.4 1555 491.8 1555.4 489.8 1555.8 493.3 1556.1 488.8 1556.5 495.6 1556.8 491.9 1557.2 496.9 1557.5 492.5 1557.8 499.6 1558.2 497.3 1558.5 501.3 1558.9 497.5 1559.2 502.1 1559.6 499.4 1560 503.9 1560.3 500.8 1560.7 504.7 1561 502.2 1561.3 507.4 1561.7 502.5 1562 506.2 1562.4 504.5 1562.8 509.4 1563.1 502.6 1563.5 510.4 1563.8 502.5 1564.2 509 1564.5 504 1564.8 510.6 1565.2 504.4 1565.5 511.8 1565.9 508.1 1566.2 512.8 1566.6 509 1567 513.7 1567.3 508.8 1567.7 513.7 1568 507 1568.3 513.2 1568.7 505.6 1569 514.4 1569.4 509.7 1569.8 512.7 1570.1 507 1570.5 517.8 1570.8 507.6 1571.2 513.6 1571.5 509.1 1571.8 514.3 1572.2 511.2 1572.5 513.6 1572.9 511.2 1573.2 515 1573.6 512.8 1574 515.9 1574.3 511.1 1574.7 518.7 1575 511.5 1575.3 517.6 1575.7 514.4 1576 521.9 1576.4 513.6 1576.8 517.7 1577.1 512.7 1577.5 517.1 1577.8 513.8 1578.2 517.3 1578.5 510.8 1578.8 517 1579.2 512 1579.5 516.4 1579.9 511.7 1580.2 515.6 1580.6 511.6 1581 514.9 1581.3 511.9 1581.7 517.6 1582 515.2 1582.3 403.9 1582.7 330.9 1583 322.8 1583.4 317.5 1583.7 316 1583.8 316 1584.1 319 1584.5 327.8 1584.8 343.4 1585.2 373.1 1585.5 397.8 1585.8 411.3 1586.2 419.7 1586.5 427.4 1586.9 432.4 1587.2 438.6 1587.6 441.5 1588 447.3 1588.3 448.9 1588.7 454.9 1589 456.4 1589.3 461.8 1589.7 462.2 1590 467.3 1590.4 466.2 1590.8 471.9 1591.1 470.7 1591.5 474.9 1591.8 474.1 1592.2 478.6 1592.5 477.2 1592.8 481.8 1593.2 479 1593.5 485.1 1593.9 482.7 1594.2 486.6 1594.6 485.1 1595 489.7 1595.3 488.8 1595.7 492.7 1596 490.7 1596.3 500.9 1596.7 492.3 1597 495.9 1597.4 494.1 1597.8 499.1 1598.1 495.5 1598.5 500.6 1598.8 498 1599.2 503.6 1599.5 497.1 1599.8 505 1600.2 500 1600.5 503.8 1600.9 498.7 1601.2 504.7 1601.6 501.8 1602 507 1602.3 504.1 1602.7 509.7 1603 504.7 1603.3 508.9 1603.7 505.1 1604 510.8 1604.4 506.3 1604.8 510.6 1605.1 507.9 1605.5 511.5 1605.8 506.5 1606.2 511.8 1606.5 507.7 1606.8 512.4 1607.2 509 1607.5 515.4 1607.9 510 1608.2 516.9 1608.6 508.4 1609 515 1609.3 510.4 1609.7 515.5 1610 509.5 1610.3 514.3 1610.7 510.8 1611 517.5 1611.4 511 1611.8 513.9 1612.1 510.7 1612.5 515.9 1612.8 512.7 1613.2 515.7 1613.5 508.8 1613.8 516.3 1614.2 510.6 1614.5 516.7 1614.9 511.2 1615.2 517.3 1615.6 511.7 1616 517.4 1616.3 512.3 1616.7 516.9 1617 513.9 1617.3 519.3 1617.7 514.6 1618 517.1 1618.4 512.7 1618.8 520.7 1619.1 513.8 1619.5 519.8 1619.8 513.3 1620.2 514.9 1620.5 430.6 1620.8 341.9 1621.2 336.9 1621.5 332.3 1621.9 328.7 1622.2 326.2 1622.6 325.1 1622.7 325 1623 325.3 1623.3 327 1623.7 330.5 1624 336 1624.3 343.6 1624.7 353.4 1625 376.1 1625.4 398.9 1625.8 411.7 1626.1 420.7 1626.5 428.7 1626.8 433.1 1627.2 439 1627.5 442.2 1627.8 448.2 1628.2 451.1 1628.5 456.6 1628.9 457.2 1629.2 462.1 1629.6 462.9 1630 468.6 1630.3 467.4 1630.7 472 1631 470.1 1631.3 475.5 1631.7 474.2 1632 479.3 1632.4 477.8 1632.8 483 1633.1 477.8 1633.5 484.5 1633.8 482.8 1634.2 487 1634.5 483.7 1634.8 490.2 1635.2 485.7 1635.5 491.8 1635.9 489 1636.2 492.3 1636.6 489.6 1637 496.9 1637.3 493.9 1637.7 497.2 1638 492.5 1638.3 498.5 1638.7 496.6 1639 498.6 1639.4 495.5 1639.8 501.7 1640.1 497.5 1640.5 501.1 1640.8 497.1 1641.2 502.6 1641.5 499.4 1641.8 504.5 1642.2 501.4 1642.5 506.7 1642.9 501.4 1643.2 507 1643.6 504.7 1644 510.7 1644.3 502.2 1644.7 508.1 1645 504.3 1645.3 508.6 1645.7 504.7 1646 507.3 1646.4 502.1 1646.8 508.7 1647.1 503.7 1647.5 513.7 1647.8 505.5 1648.2 510.2 1648.5 508.4 1648.8 512.7 1649.2 507 1649.5 512.6 1649.9 509.9 1650.2 513.6 1650.6 507.7 1651 516.1 1651.3 511.1 1651.7 513.4 1652 508 1652.3 517 1652.7 508.8 1653 516.4 1653.4 511.1 1653.8 516 1654.1 510.7 1654.5 516.3 1654.8 512.3 1655.2 518.6 1655.5 509.8 1655.8 516.6 1656.2 508.9 1656.5 514.1 1656.9 509.2 1657.2 516 1657.6 511.7 1658 516.7 1658.3 511.5 1658.7 495.7 1659 346.4 1659.3 341.3 1659.7 336.5 1660 332.5 1660.4 329.6 1660.8 327.9 1661 327.5 1661.1 327.5 1661.5 328.3 1661.8 330.5 1662.2 334.2 1662.5 339.5 1662.8 346.5 1663.2 355.4 1663.5 376.9 1663.9 399.2 1664.2 411.8 1664.6 420.4 1665 428.4 1665.3 432.8 1665.7 439.4 1666 442.4 1666.3 448.9 1666.7 450.2 1667 455 1667.4 457.5 1667.8 461.6 1668.1 461.5 1668.5 467.5 1668.8 467.5 1669.2 472.7 1669.5 470.7 1669.8 477.8 1670.2 474.7 1670.5 479.2 1670.9 478.1 1671.2 484 1671.6 482.1 1672 488.1 1672.3 483.9 1672.7 489.5 1673 486.7 1673.3 491.3 1673.7 487.4 1674 491.9 1674.4 488.2 1674.8 494.5 1675.1 489.5 1675.5 496.7 1675.8 493.1 1676.2 498.8 1676.5 495.3 1676.8 501.8 1677.2 497.8 1677.5 501.6 1677.9 498.3 1678.2 501.1 1678.6 498.6 1679 503.6 1679.3 499.7 1679.7 505.7 1680 499.9 1680.3 506.7 1680.7 499.6 1681 505.9 1681.4 502 1681.8 506.7 1682.1 502.4 1682.5 509.4 1682.8 502.1 1683.2 508.9 1683.5 501.8 1683.8 510.5 1684.2 506.3 1684.5 510.5 1684.9 504.1 1685.2 508.1 1685.6 505.1 1686 510.2 1686.3 504.9 1686.7 511.2 1687 507.9 1687.3 515.8 1687.7 507.3 1688 511.1 1688.4 507.5 1688.8 510.8 1689.1 507 1689.5 512.1 1689.8 507.3 1690.2 510.4 1690.5 504 1690.8 511.2 1691.2 506.1 1691.5 513.6 1691.9 507.6 1692.2 514.1 1692.6 504.8 1693 513.2 1693.3 508.4 1693.7 513.5 1694 504.3 1694.3 514.4 1694.7 507.5 1695 517.1 1695.4 507.7 1695.8 515 1696.1 509.9 1696.5 514.8 1696.8 511.7 1697.2 517.7 1697.5 514.6 1697.8 412.4 1698.2 346.7 1698.5 341.8 1698.9 337.5 1699.2 334.1 1699.6 331.9 1700 331 1700 331 1700.3 331.2 1700.7 332.3 1701 334.3 1701.3 337.4 1701.7 341.7 1702 347.1 1702.4 353.8 1702.8 361.8 1703.1 389 1703.5 405.6 1703.8 416 1704.2 424 1704.5 428.7 1704.8 436.6 1705.2 439.5 1705.5 445.8 1705.9 447.9 1706.2 453.3 1706.6 454.7 1707 459.8 1707.3 460.5 1707.7 466.4 1708 465 1708.3 470.5 1708.7 470 1709 475.9 1709.4 472.6 1709.8 478.1 1710.1 478.7 1710.5 482.2 1710.8 481.7 1711.2 485.1 1711.5 483.1 1711.8 488 1712.2 486.6 1712.5 491 1712.9 487.8 1713.2 494.6 1713.6 492.6 1714 495.2 1714.3 491.9 1714.7 496.2 1715 494.3 1715.3 502.9 1715.7 491.8 1716 499.7 1716.4 498.6 1716.8 500.9 1717.1 494.6 1717.5 502.9 1717.8 496.3 1718.2 504.6 1718.5 500 1718.8 505.2 1719.2 500.5 1719.5 508.6 1719.9 500.6 1720.2 508.2 1720.6 505.5 1721 509.3 1721.3 504.1 1721.7 509.6 1722 506.7 1722.3 509.6 1722.7 507.1 1723 512.3 1723.4 507.1 1723.8 512.3 1724.1 505.7 1724.5 512.4 1724.8 509.2 1725.2 512.7 1725.5 511 1725.8 514.6 1726.2 508.7 1726.5 515 1726.9 511 1727.2 513.4 1727.6 511.6 1728 516.4 1728.3 511.3 1728.7 516.8 1729 509.7 1729.3 515.5 1729.7 510.6 1730 515.6 1730.4 509 1730.8 514.3 1731.1 509.2 1731.5 513 1731.8 510.8 1732.2 516.1 1732.5 510 1732.8 514.7 1733.2 510.6 1733.5 516.4 1733.9 512.1 1734.2 514.2 1734.6 509 1735 515.6" fill="none" stroke="#000" stroke-width="2.8" stroke-linejoin="round" stroke-linecap="round"/>
<line x1="1338" y1="542" x2="1369.5" y2="499" stroke="#000" stroke-width="2.3"/>
<line x1="1357" y1="542" x2="1388.5" y2="499" stroke="#000" stroke-width="2.3"/>
<path d="M968.7 443 V583 H1082.5" fill="none" stroke="#000" stroke-width="2.1"/>
<line x1="1398" y1="240.5" x2="1758.5" y2="240.5" stroke="#000" stroke-width="6.5" stroke-linecap="round"/>
<text x="1573.2" y="232.5" font-size="35" text-anchor="middle">+ATR</text>
<text x="1022.3" y="608.2" font-size="27.8" text-anchor="middle">10 min</text>
<text transform="translate(960.7 512.5) rotate(-90)" font-size="28" text-anchor="middle">0.2 of KCl</text>
<path d="M144.2 740.4 V1175.7" fill="none" stroke="#000" stroke-width="2"/>
<line x1="144.2" y1="1174.7" x2="162.2" y2="1174.7" stroke="#000" stroke-width="2.0"/>
<text x="125.3" y="1181.9" font-size="23.4" text-anchor="end">0.0</text>
<line x1="144.2" y1="1135.3" x2="153.7" y2="1135.3" stroke="#000" stroke-width="2.0"/>
<line x1="144.2" y1="1095.9" x2="162.2" y2="1095.9" stroke="#000" stroke-width="2.0"/>
<text x="125.3" y="1103.1" font-size="23.4" text-anchor="end">0.2</text>
<line x1="144.2" y1="1056.6" x2="153.7" y2="1056.6" stroke="#000" stroke-width="2.0"/>
<line x1="144.2" y1="1017.2" x2="162.2" y2="1017.2" stroke="#000" stroke-width="2.0"/>
<text x="125.3" y="1024.4" font-size="23.4" text-anchor="end">0.4</text>
<line x1="144.2" y1="977.8" x2="153.7" y2="977.8" stroke="#000" stroke-width="2.0"/>
<line x1="144.2" y1="938.4" x2="162.2" y2="938.4" stroke="#000" stroke-width="2.0"/>
<text x="125.3" y="945.6" font-size="23.4" text-anchor="end">0.6</text>
<line x1="144.2" y1="899" x2="153.7" y2="899" stroke="#000" stroke-width="2.0"/>
<line x1="144.2" y1="859.7" x2="162.2" y2="859.7" stroke="#000" stroke-width="2.0"/>
<text x="125.3" y="866.9" font-size="23.4" text-anchor="end">0.8</text>
<line x1="144.2" y1="820.3" x2="153.7" y2="820.3" stroke="#000" stroke-width="2.0"/>
<line x1="144.2" y1="780.9" x2="162.2" y2="780.9" stroke="#000" stroke-width="2.0"/>
<text x="125.3" y="788.1" font-size="23.4" text-anchor="end">1.0</text>
<line x1="144.2" y1="741.5" x2="153.7" y2="741.5" stroke="#000" stroke-width="2.0"/>
<path d="M177.3 1174.7 H667.3" fill="none" stroke="#000" stroke-width="2.1"/>
<line x1="178.3" y1="1174.7" x2="178.3" y2="1157.2" stroke="#000" stroke-width="2.0"/>
<text x="178.3" y="1211.8" font-size="23.4" text-anchor="middle">0</text>
<line x1="200.5" y1="1174.7" x2="200.5" y2="1165.7" stroke="#000" stroke-width="1.9"/>
<line x1="222.7" y1="1174.7" x2="222.7" y2="1157.2" stroke="#000" stroke-width="2.0"/>
<text x="222.7" y="1211.8" font-size="23.4" text-anchor="middle">1</text>
<line x1="244.8" y1="1174.7" x2="244.8" y2="1165.7" stroke="#000" stroke-width="1.9"/>
<line x1="267" y1="1174.7" x2="267" y2="1157.2" stroke="#000" stroke-width="2.0"/>
<text x="267" y="1211.8" font-size="23.4" text-anchor="middle">2</text>
<line x1="289.2" y1="1174.7" x2="289.2" y2="1165.7" stroke="#000" stroke-width="1.9"/>
<line x1="311.4" y1="1174.7" x2="311.4" y2="1157.2" stroke="#000" stroke-width="2.0"/>
<text x="311.4" y="1211.8" font-size="23.4" text-anchor="middle">3</text>
<line x1="333.6" y1="1174.7" x2="333.6" y2="1165.7" stroke="#000" stroke-width="1.9"/>
<line x1="355.7" y1="1174.7" x2="355.7" y2="1157.2" stroke="#000" stroke-width="2.0"/>
<text x="355.7" y="1211.8" font-size="23.4" text-anchor="middle">4</text>
<line x1="377.9" y1="1174.7" x2="377.9" y2="1165.7" stroke="#000" stroke-width="1.9"/>
<line x1="400.1" y1="1174.7" x2="400.1" y2="1157.2" stroke="#000" stroke-width="2.0"/>
<text x="400.1" y="1211.8" font-size="23.4" text-anchor="middle">5</text>
<line x1="422.3" y1="1174.7" x2="422.3" y2="1165.7" stroke="#000" stroke-width="1.9"/>
<line x1="444.5" y1="1174.7" x2="444.5" y2="1157.2" stroke="#000" stroke-width="2.0"/>
<text x="444.5" y="1211.8" font-size="23.4" text-anchor="middle">6</text>
<line x1="466.6" y1="1174.7" x2="466.6" y2="1165.7" stroke="#000" stroke-width="1.9"/>
<line x1="488.8" y1="1174.7" x2="488.8" y2="1157.2" stroke="#000" stroke-width="2.0"/>
<text x="488.8" y="1211.8" font-size="23.4" text-anchor="middle">7</text>
<line x1="511" y1="1174.7" x2="511" y2="1165.7" stroke="#000" stroke-width="1.9"/>
<line x1="533.2" y1="1174.7" x2="533.2" y2="1157.2" stroke="#000" stroke-width="2.0"/>
<text x="533.2" y="1211.8" font-size="23.4" text-anchor="middle">8</text>
<line x1="555.4" y1="1174.7" x2="555.4" y2="1165.7" stroke="#000" stroke-width="1.9"/>
<line x1="577.5" y1="1174.7" x2="577.5" y2="1157.2" stroke="#000" stroke-width="2.0"/>
<text x="577.5" y="1211.8" font-size="23.4" text-anchor="middle">9</text>
<line x1="599.7" y1="1174.7" x2="599.7" y2="1165.7" stroke="#000" stroke-width="1.9"/>
<line x1="621.9" y1="1174.7" x2="621.9" y2="1157.2" stroke="#000" stroke-width="2.0"/>
<text x="621.9" y="1211.8" font-size="23.4" text-anchor="middle">10</text>
<line x1="644.1" y1="1174.7" x2="644.1" y2="1165.7" stroke="#000" stroke-width="1.9"/>
<line x1="666.3" y1="1174.7" x2="666.3" y2="1157.2" stroke="#000" stroke-width="2.0"/>
<text x="666.3" y="1211.8" font-size="23.4" text-anchor="middle">11</text>
<path d="M196.3 1091 V1128.4 M187.3 1091 H205.3 M187.3 1128.4 H205.3" fill="none" stroke="#000" stroke-width="1.6"/>
<path d="M249.5 1021 V1047.8 M240.5 1021 H258.5 M240.5 1047.8 H258.5" fill="none" stroke="#000" stroke-width="1.6"/>
<path d="M320.5 922.5 V947.3 M311.5 922.5 H329.5 M311.5 947.3 H329.5" fill="none" stroke="#000" stroke-width="1.6"/>
<path d="M356 779.7 V899 M347 779.7 H365 M347 899 H365" fill="none" stroke="#000" stroke-width="1.6"/>
<path d="M444.2 777.4 V927.6 M435.2 777.4 H453.2 M435.2 927.6 H453.2" fill="none" stroke="#000" stroke-width="1.6"/>
<path d="M533 750.5 V903 M524 750.5 H542 M524 903 H542" fill="none" stroke="#000" stroke-width="1.6"/>
<path d="M577.2 776.5 V913.5 M568.2 776.5 H586.2 M568.2 913.5 H586.2" fill="none" stroke="#000" stroke-width="1.6"/>
<path d="M621.5 816 V926 M612.5 816 H630.5 M612.5 926 H630.5" fill="none" stroke="#000" stroke-width="1.6"/>
<rect x="188" y="1100.7" width="16.6" height="16.6" fill="#000"/>
<rect x="241.2" y="1025.7" width="16.6" height="16.6" fill="#000"/>
<rect x="312.2" y="926.4" width="16.6" height="16.6" fill="#000"/>
<rect x="347.7" y="830.7" width="16.6" height="16.6" fill="#000"/>
<rect x="435.9" y="844.3" width="16.6" height="16.6" fill="#000"/>
<rect x="524.7" y="818.4" width="16.6" height="16.6" fill="#000"/>
<rect x="568.9" y="836.4" width="16.6" height="16.6" fill="#000"/>
<rect x="613.2" y="862.4" width="16.6" height="16.6" fill="#000"/>
<path d="M196.3 1111.3 V1132 M187.3 1111.3 H205.3 M187.3 1132 H205.3" fill="none" stroke="#000" stroke-width="1.6"/>
<path d="M249.5 1007 V1085.7 M240.5 1007 H258.5 M240.5 1085.7 H258.5" fill="none" stroke="#000" stroke-width="1.6"/>
<path d="M320.5 973.5 V1023 M311.5 973.5 H329.5 M311.5 1023 H329.5" fill="none" stroke="#000" stroke-width="1.6"/>
<path d="M356 998.7 V1064 M347 998.7 H365 M347 1064 H365" fill="none" stroke="#000" stroke-width="1.6"/>
<path d="M444.2 971 V1044 M435.2 971 H453.2 M435.2 1044 H453.2" fill="none" stroke="#000" stroke-width="1.6"/>
<path d="M533 1000 V1065.7 M524 1000 H542 M524 1065.7 H542" fill="none" stroke="#000" stroke-width="1.6"/>
<path d="M577.2 999.5 V1064 M568.2 999.5 H586.2 M568.2 1064 H586.2" fill="none" stroke="#000" stroke-width="1.6"/>
<path d="M621.5 971.7 V1041 M612.5 971.7 H630.5 M612.5 1041 H630.5" fill="none" stroke="#000" stroke-width="1.6"/>
<rect x="188.9" y="1114.1" width="14.8" height="14.8" fill="#fff" stroke="#000" stroke-width="1.7"/>
<rect x="242.1" y="1038.9" width="14.8" height="14.8" fill="#fff" stroke="#000" stroke-width="1.7"/>
<rect x="313.1" y="990.6" width="14.8" height="14.8" fill="#fff" stroke="#000" stroke-width="1.7"/>
<rect x="348.6" y="1024.1" width="14.8" height="14.8" fill="#fff" stroke="#000" stroke-width="1.7"/>
<rect x="436.8" y="999.6" width="14.8" height="14.8" fill="#fff" stroke="#000" stroke-width="1.7"/>
<rect x="525.6" y="1025.3" width="14.8" height="14.8" fill="#fff" stroke="#000" stroke-width="1.7"/>
<rect x="569.8" y="1024.3" width="14.8" height="14.8" fill="#fff" stroke="#000" stroke-width="1.7"/>
<rect x="614.1" y="998.6" width="14.8" height="14.8" fill="#fff" stroke="#000" stroke-width="1.7"/>
<text x="320.6" y="919.7" font-size="40" text-anchor="middle" font-weight="bold">*</text>
<text x="356.2" y="778.5" font-size="40" text-anchor="middle" font-weight="bold">*</text>
<text x="444.1" y="777.4" font-size="40" text-anchor="middle" font-weight="bold">*</text>
<text x="533" y="750.5" font-size="40" text-anchor="middle" font-weight="bold">*</text>
<text x="577" y="778" font-size="40" text-anchor="middle" font-weight="bold">*</text>
<text x="621.5" y="819.2" font-size="40" text-anchor="middle" font-weight="bold">*</text>
<rect x="295.7" y="1096.3" width="293.3" height="37.5" fill="#fff" stroke="#333" stroke-width="1"/>
<rect x="302.9" y="1107.5" width="16.6" height="16.6" fill="#000"/>
<text x="332" y="1124.6" font-size="29" text-anchor="start">ATR-free</text>
<rect x="480.8" y="1108.6" width="15" height="15" fill="#fff" stroke="#000" stroke-width="1.6"/>
<text x="506.6" y="1124.6" font-size="29" text-anchor="start">+ATR</text>
<text x="418" y="1248.8" font-size="28" text-anchor="middle">EFS duration, s</text>
<text transform="translate(71.6 966.3) rotate(-90)" font-size="27.6" text-anchor="middle"><tspan font-style="italic">A</tspan><tspan font-size="16.3">EFS</tspan>, fold of KCl</text>
<path d="M1090.6 738 V1173.2" fill="none" stroke="#000" stroke-width="2"/>
<line x1="1090.6" y1="1172.2" x2="1108.6" y2="1172.2" stroke="#000" stroke-width="2.0"/>
<text x="1071.9" y="1178.4" font-size="23.4" text-anchor="end">0.0</text>
<line x1="1090.6" y1="1136.1" x2="1100.1" y2="1136.1" stroke="#000" stroke-width="2.0"/>
<line x1="1090.6" y1="1100" x2="1108.6" y2="1100" stroke="#000" stroke-width="2.0"/>
<text x="1071.9" y="1106.2" font-size="23.4" text-anchor="end">0.2</text>
<line x1="1090.6" y1="1063.9" x2="1100.1" y2="1063.9" stroke="#000" stroke-width="2.0"/>
<line x1="1090.6" y1="1027.8" x2="1108.6" y2="1027.8" stroke="#000" stroke-width="2.0"/>
<text x="1071.9" y="1034" font-size="23.4" text-anchor="end">0.4</text>
<line x1="1090.6" y1="991.7" x2="1100.1" y2="991.7" stroke="#000" stroke-width="2.0"/>
<line x1="1090.6" y1="955.6" x2="1108.6" y2="955.6" stroke="#000" stroke-width="2.0"/>
<text x="1071.9" y="961.8" font-size="23.4" text-anchor="end">0.6</text>
<line x1="1090.6" y1="919.5" x2="1100.1" y2="919.5" stroke="#000" stroke-width="2.0"/>
<line x1="1090.6" y1="883.4" x2="1108.6" y2="883.4" stroke="#000" stroke-width="2.0"/>
<text x="1071.9" y="889.6" font-size="23.4" text-anchor="end">0.8</text>
<line x1="1090.6" y1="847.3" x2="1100.1" y2="847.3" stroke="#000" stroke-width="2.0"/>
<line x1="1090.6" y1="811.2" x2="1108.6" y2="811.2" stroke="#000" stroke-width="2.0"/>
<text x="1071.9" y="817.4" font-size="23.4" text-anchor="end">1.0</text>
<line x1="1090.6" y1="775.1" x2="1100.1" y2="775.1" stroke="#000" stroke-width="2.0"/>
<line x1="1090.6" y1="739" x2="1108.6" y2="739" stroke="#000" stroke-width="2.0"/>
<text x="1071.9" y="745.2" font-size="23.4" text-anchor="end">1.2</text>
<path d="M1124 1172.2 H1613.5" fill="none" stroke="#000" stroke-width="2.1"/>
<line x1="1125" y1="1172.2" x2="1125" y2="1154.7" stroke="#000" stroke-width="2.0"/>
<text x="1125" y="1208.2" font-size="23.4" text-anchor="middle">0</text>
<line x1="1147.2" y1="1172.2" x2="1147.2" y2="1163.2" stroke="#000" stroke-width="1.9"/>
<line x1="1169.3" y1="1172.2" x2="1169.3" y2="1154.7" stroke="#000" stroke-width="2.0"/>
<text x="1169.3" y="1208.2" font-size="23.4" text-anchor="middle">1</text>
<line x1="1191.5" y1="1172.2" x2="1191.5" y2="1163.2" stroke="#000" stroke-width="1.9"/>
<line x1="1213.6" y1="1172.2" x2="1213.6" y2="1154.7" stroke="#000" stroke-width="2.0"/>
<text x="1213.6" y="1208.2" font-size="23.4" text-anchor="middle">2</text>
<line x1="1235.8" y1="1172.2" x2="1235.8" y2="1163.2" stroke="#000" stroke-width="1.9"/>
<line x1="1258" y1="1172.2" x2="1258" y2="1154.7" stroke="#000" stroke-width="2.0"/>
<text x="1258" y="1208.2" font-size="23.4" text-anchor="middle">3</text>
<line x1="1280.1" y1="1172.2" x2="1280.1" y2="1163.2" stroke="#000" stroke-width="1.9"/>
<line x1="1302.3" y1="1172.2" x2="1302.3" y2="1154.7" stroke="#000" stroke-width="2.0"/>
<text x="1302.3" y="1208.2" font-size="23.4" text-anchor="middle">4</text>
<line x1="1324.4" y1="1172.2" x2="1324.4" y2="1163.2" stroke="#000" stroke-width="1.9"/>
<line x1="1346.6" y1="1172.2" x2="1346.6" y2="1154.7" stroke="#000" stroke-width="2.0"/>
<text x="1346.6" y="1208.2" font-size="23.4" text-anchor="middle">5</text>
<line x1="1368.8" y1="1172.2" x2="1368.8" y2="1163.2" stroke="#000" stroke-width="1.9"/>
<line x1="1390.9" y1="1172.2" x2="1390.9" y2="1154.7" stroke="#000" stroke-width="2.0"/>
<text x="1390.9" y="1208.2" font-size="23.4" text-anchor="middle">6</text>
<line x1="1413.1" y1="1172.2" x2="1413.1" y2="1163.2" stroke="#000" stroke-width="1.9"/>
<line x1="1435.2" y1="1172.2" x2="1435.2" y2="1154.7" stroke="#000" stroke-width="2.0"/>
<text x="1435.2" y="1208.2" font-size="23.4" text-anchor="middle">7</text>
<line x1="1457.4" y1="1172.2" x2="1457.4" y2="1163.2" stroke="#000" stroke-width="1.9"/>
<line x1="1479.6" y1="1172.2" x2="1479.6" y2="1154.7" stroke="#000" stroke-width="2.0"/>
<text x="1479.6" y="1208.2" font-size="23.4" text-anchor="middle">8</text>
<line x1="1501.7" y1="1172.2" x2="1501.7" y2="1163.2" stroke="#000" stroke-width="1.9"/>
<line x1="1523.9" y1="1172.2" x2="1523.9" y2="1154.7" stroke="#000" stroke-width="2.0"/>
<text x="1523.9" y="1208.2" font-size="23.4" text-anchor="middle">9</text>
<line x1="1546" y1="1172.2" x2="1546" y2="1163.2" stroke="#000" stroke-width="1.9"/>
<line x1="1568.2" y1="1172.2" x2="1568.2" y2="1154.7" stroke="#000" stroke-width="2.0"/>
<text x="1568.2" y="1208.2" font-size="23.4" text-anchor="middle">10</text>
<line x1="1590.4" y1="1172.2" x2="1590.4" y2="1163.2" stroke="#000" stroke-width="1.9"/>
<line x1="1612.5" y1="1172.2" x2="1612.5" y2="1154.7" stroke="#000" stroke-width="2.0"/>
<text x="1612.5" y="1208.2" font-size="23.4" text-anchor="middle">11</text>
<path d="M1142.2 1093 V1155.4 M1133.2 1093 H1151.2 M1133.2 1155.4 H1151.2" fill="none" stroke="#000" stroke-width="1.6"/>
<path d="M1160.4 1058 V1128.2 M1151.4 1058 H1169.4 M1151.4 1128.2 H1169.4" fill="none" stroke="#000" stroke-width="1.6"/>
<path d="M1195.3 1003.5 V1094.4 M1186.3 1003.5 H1204.3 M1186.3 1094.4 H1204.3" fill="none" stroke="#000" stroke-width="1.6"/>
<path d="M1231 999.8 V1049.7 M1222 999.8 H1240 M1222 1049.7 H1240" fill="none" stroke="#000" stroke-width="1.6"/>
<path d="M1266.5 983.2 V1052.6 M1257.5 983.2 H1275.5 M1257.5 1052.6 H1275.5" fill="none" stroke="#000" stroke-width="1.6"/>
<path d="M1301.8 981.6 V1066.5 M1292.8 981.6 H1310.8 M1292.8 1066.5 H1310.8" fill="none" stroke="#000" stroke-width="1.6"/>
<path d="M1390.7 969 V1080.5 M1381.7 969 H1399.7 M1381.7 1080.5 H1399.7" fill="none" stroke="#000" stroke-width="1.6"/>
<path d="M1479.2 961.7 V1090.5 M1470.2 961.7 H1488.2 M1470.2 1090.5 H1488.2" fill="none" stroke="#000" stroke-width="1.6"/>
<path d="M1567.6 1052 V1058 M1558.6 1052 H1576.6 M1558.6 1058 H1576.6" fill="none" stroke="#000" stroke-width="1.6"/>
<circle cx="1142.2" cy="1124.2" r="9.3" fill="#000"/>
<circle cx="1160.4" cy="1092.5" r="9.3" fill="#000"/>
<circle cx="1195.3" cy="1049" r="9.3" fill="#000"/>
<circle cx="1231" cy="1024.7" r="9.3" fill="#000"/>
<circle cx="1266.5" cy="1018" r="9.3" fill="#000"/>
<circle cx="1301.8" cy="1024" r="9.3" fill="#000"/>
<circle cx="1390.7" cy="1024.5" r="9.3" fill="#000"/>
<circle cx="1479.2" cy="1026.2" r="9.3" fill="#000"/>
<circle cx="1567.6" cy="1055" r="9.3" fill="#000"/>
<path d="M1142.2 1123.3 V1156.6 M1133.2 1123.3 H1151.2 M1133.2 1156.6 H1151.2" fill="none" stroke="#000" stroke-width="1.6"/>
<path d="M1160.4 1076.7 V1139.3 M1151.4 1076.7 H1169.4 M1151.4 1139.3 H1169.4" fill="none" stroke="#000" stroke-width="1.6"/>
<path d="M1195.3 1058 V1105.7 M1186.3 1058 H1204.3 M1186.3 1105.7 H1204.3" fill="none" stroke="#000" stroke-width="1.6"/>
<path d="M1231 1056 V1080.3 M1222 1056 H1240 M1222 1080.3 H1240" fill="none" stroke="#000" stroke-width="1.6"/>
<path d="M1266.5 1052.4 V1083 M1257.5 1052.4 H1275.5 M1257.5 1083 H1275.5" fill="none" stroke="#000" stroke-width="1.6"/>
<path d="M1301.8 1054.2 V1085.5 M1292.8 1054.2 H1310.8 M1292.8 1085.5 H1310.8" fill="none" stroke="#000" stroke-width="1.6"/>
<path d="M1390.7 1052.7 V1091 M1381.7 1052.7 H1399.7 M1381.7 1091 H1399.7" fill="none" stroke="#000" stroke-width="1.6"/>
<path d="M1479.2 1049 V1097.5 M1470.2 1049 H1488.2 M1470.2 1097.5 H1488.2" fill="none" stroke="#000" stroke-width="1.6"/>
<circle cx="1142.2" cy="1139.7" r="8.3" fill="#fff" stroke="#000" stroke-width="1.7"/>
<circle cx="1160.4" cy="1108.4" r="8.3" fill="#fff" stroke="#000" stroke-width="1.7"/>
<circle cx="1195.3" cy="1081.7" r="8.3" fill="#fff" stroke="#000" stroke-width="1.7"/>
<circle cx="1231" cy="1068.3" r="8.3" fill="#fff" stroke="#000" stroke-width="1.7"/>
<circle cx="1266.5" cy="1067.5" r="8.3" fill="#fff" stroke="#000" stroke-width="1.7"/>
<circle cx="1301.8" cy="1069.9" r="8.3" fill="#fff" stroke="#000" stroke-width="1.7"/>
<circle cx="1390.7" cy="1071.7" r="8.3" fill="#fff" stroke="#000" stroke-width="1.7"/>
<circle cx="1479.2" cy="1073.5" r="8.3" fill="#fff" stroke="#000" stroke-width="1.7"/>
<circle cx="1567.6" cy="1093.2" r="8.6" fill="#fff" stroke="#000" stroke-width="1.6"/>
<path d="M1567.6 1084.6 V1101.8 M1559 1091.6 H1576.2 M1559 1094.8 H1576.2" fill="none" stroke="#000" stroke-width="1.3"/>
<text x="1231.5" y="1005" font-size="40" text-anchor="middle" font-weight="bold">*</text>
<text x="1568.5" y="1051.1" font-size="40" text-anchor="middle" font-weight="bold">*</text>
<rect x="1196.7" y="789" width="330.8" height="40.7" fill="#fff" stroke="#333" stroke-width="1"/>
<circle cx="1213.7" cy="811" r="9.2" fill="#000"/>
<text x="1233.8" y="818.5" font-size="29" text-anchor="start">ATR-free</text>
<circle cx="1434.5" cy="811" r="8.3" fill="#fff" stroke="#000" stroke-width="1.6"/>
<text x="1449.8" y="818.5" font-size="29" text-anchor="start">+ATR</text>
<text x="1368.5" y="1245.6" font-size="28" text-anchor="middle">EFS duration, s</text>
<text transform="translate(1017.4 952.8) rotate(-90)" font-size="27.6" text-anchor="middle"><tspan font-style="italic">A</tspan><tspan font-size="16.3">EFS</tspan>, fold of KCl</text>
</svg></body></html>
